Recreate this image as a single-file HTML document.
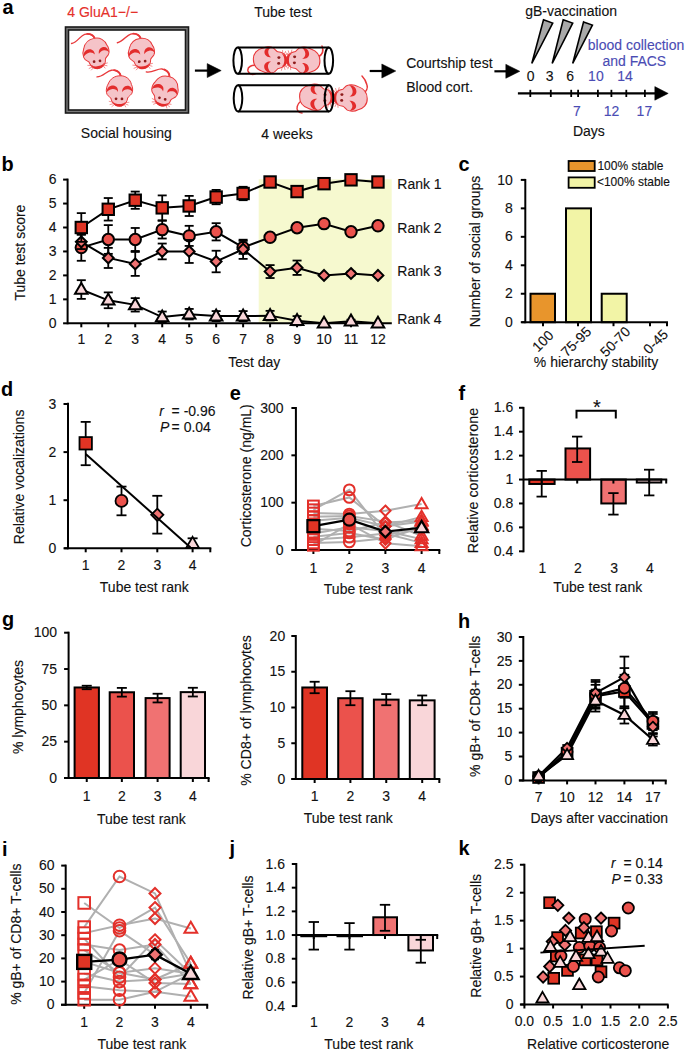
<!DOCTYPE html>
<html><head><meta charset="utf-8"><style>
html,body{margin:0;padding:0;background:#fff;overflow:hidden;}
svg{display:block;font-family:"Liberation Sans",sans-serif;}
</style></head><body>
<svg width="685" height="1051" viewBox="0 0 685 1051">
<defs><g id="mbody">
<g transform="scale(0.0657)">
<path d="M380,165 C470,160 540,220 555,300 C575,330 582,400 557,440 C532,470 507,482 497,502 C492,552 462,602 412,622 C382,632 342,630 312,614 C267,592 250,542 240,502 C215,482 180,462 175,422 C165,372 180,322 200,290 C230,210 300,165 380,165 Z" fill="#f5c3c8" stroke="#e8383a" stroke-width="15"/>
<path d="M176,418 C176,350 222,312 280,314 C328,318 356,360 350,410 C332,378 302,364 266,367 C226,372 194,392 176,418 Z" fill="#e32c2c"/>
<path d="M413,412 C412,360 440,322 492,318 C540,318 570,356 572,414 C553,386 527,370 496,370 C456,372 430,388 413,412 Z" fill="#e32c2c"/>
<circle cx="320" cy="515" r="21" fill="#8e1c1c"/>
<circle cx="410" cy="518" r="21" fill="#8e1c1c"/>
<path d="M272,566 C318,600 422,606 464,562 C452,612 412,634 370,634 C318,632 286,606 272,566 Z" fill="#e32c2c"/>
<path d="M292,572 L210,552 M294,585 L222,604 M302,598 L252,636 M452,574 L522,568 M452,588 L508,612 M445,600 L470,644" stroke="#e8383a" stroke-width="8" fill="none"/>
</g></g>
<g id="mtail"><g transform="scale(0.0657)">
<path d="M392,170 C380,110 320,70 250,80 C180,90 120,180 30,182" fill="none" stroke="#e8383a" stroke-width="21" stroke-linecap="round"/>
<path d="M392,170 C384,125 345,90 290,80" fill="none" stroke="#e8383a" stroke-width="28" stroke-linecap="round"/>
</g></g></defs>
<rect width="685" height="1051" fill="#fff"/>
<text x="2.40" y="14.10" font-size="19.9" font-weight="bold" fill="#000">a</text>
<text x="0" y="0" font-size="14.0" text-anchor="start" fill="#e5302a" stroke="#e5302a" stroke-width="0.12" transform="translate(67.30,16.50) scale(1,1.03)">4 GluA1&#8722;/&#8722;</text>
<text x="0" y="0" font-size="14.0" text-anchor="start" fill="#111" stroke="#111" stroke-width="0.12" transform="translate(254.20,16.50) scale(1,1.03)">Tube test</text>
<text x="0" y="0" font-size="14.0" text-anchor="start" fill="#111" stroke="#111" stroke-width="0.12" transform="translate(80.80,138.10) scale(1,1.03)">Social housing</text>
<text x="0" y="0" font-size="14.0" text-anchor="start" fill="#111" stroke="#111" stroke-width="0.12" transform="translate(261.30,138.50) scale(1,1.03)">4 weeks</text>
<text x="0" y="0" font-size="14.0" text-anchor="start" fill="#111" stroke="#111" stroke-width="0.12" transform="translate(406.20,68.20) scale(1,1.03)">Courtship test</text>
<text x="0" y="0" font-size="14.0" text-anchor="start" fill="#111" stroke="#111" stroke-width="0.12" transform="translate(406.20,92.30) scale(1,1.03)">Blood cort.</text>
<rect x="67" y="28.5" width="120" height="83" fill="none" stroke="#7a7a7a" stroke-width="3"/>
<rect x="65.5" y="27" width="123" height="86" fill="none" stroke="#1a1a1a" stroke-width="1.6"/>
<rect x="68.5" y="30" width="117" height="80" fill="none" stroke="#1a1a1a" stroke-width="1.6"/>
<use href="#mtail" transform="translate(97.05,61.30) rotate(-10) scale(1.0,1.000) translate(-23.98,-33.94)"/>
<use href="#mbody" transform="translate(97.05,61.30) rotate(-10) scale(1.0,1.000) translate(-23.98,-33.94)"/>
<use href="#mtail" transform="translate(142.20,61.40) rotate(-8) scale(1.0,1.000) translate(-23.98,-33.94)"/>
<use href="#mbody" transform="translate(142.20,61.40) rotate(-8) scale(1.0,1.000) translate(-23.98,-33.94)"/>
<use href="#mtail" transform="translate(119.00,98.90) rotate(0) scale(1.0,1.000) translate(-23.98,-33.94)"/>
<use href="#mbody" transform="translate(119.00,98.90) rotate(0) scale(1.0,1.000) translate(-23.98,-33.94)"/>
<use href="#mtail" transform="translate(162.30,98.60) rotate(14) scale(1.0,1.000) translate(-23.98,-33.94)"/>
<use href="#mbody" transform="translate(162.30,98.60) rotate(14) scale(1.0,1.000) translate(-23.98,-33.94)"/>
<line x1="194.90" y1="70.60" x2="208.20" y2="70.60" stroke="#000" stroke-width="2.2" stroke-linecap="butt"/>
<polygon points="207.20,63.60 221.20,70.60 207.20,77.60" fill="#000" stroke="#000" stroke-width="0.5" stroke-linejoin="miter"/>
<line x1="369.70" y1="71.00" x2="382.80" y2="71.00" stroke="#000" stroke-width="2.2" stroke-linecap="butt"/>
<polygon points="381.80,64.00 395.80,71.00 381.80,78.00" fill="#000" stroke="#000" stroke-width="0.5" stroke-linejoin="miter"/>
<line x1="494.40" y1="71.30" x2="506.80" y2="71.30" stroke="#000" stroke-width="2.2" stroke-linecap="butt"/>
<polygon points="505.80,64.30 519.80,71.30 505.80,78.30" fill="#000" stroke="#000" stroke-width="0.5" stroke-linejoin="miter"/>
<path d="M258,66 C252,64 247,67 248,71 C249,74 252,75 255,74" fill="none" stroke="#e8383a" stroke-linecap="round" stroke-width="1.5"/>
<path d="M318,57 C322,55 324,51 322,46" fill="none" stroke="#e8383a" stroke-linecap="round" stroke-width="1.5"/>
<path d="M301,101 C297,104 296,109 298,111 C299,113 301,113 302,113" fill="none" stroke="#e8383a" stroke-linecap="round" stroke-width="1.5"/>
<path d="M362,95 C366,92 368,88 367,85 C366,81 364,78 362,76" fill="none" stroke="#e8383a" stroke-linecap="round" stroke-width="1.5"/>
<use href="#mbody" transform="translate(278.80,60.50) rotate(-90) scale(1.0,1.100) translate(-23.98,-33.94)"/>
<use href="#mbody" transform="translate(294.50,59.80) rotate(90) scale(1.0,1.100) translate(-23.98,-33.94)"/>
<use href="#mbody" transform="translate(325.00,97.70) rotate(-90) scale(1.0,1.100) translate(-23.98,-33.94)"/>
<use href="#mbody" transform="translate(341.80,97.50) rotate(90) scale(1.0,1.100) translate(-23.98,-33.94)"/>
<path d="M237.7,47.5 L328.8,47.5 M237.7,73.8 L328.8,73.8" stroke="#000" stroke-width="2" fill="none"/>
<ellipse cx="237.7" cy="60.6" rx="4.3" ry="13.1" fill="#fff" stroke="#000" stroke-width="2"/>
<ellipse cx="328.8" cy="60.6" rx="4.3" ry="13.1" fill="none" stroke="#000" stroke-width="2"/>
<path d="M238.0,85.3 L329.0,85.3 M238.0,111.4 L329.0,111.4" stroke="#000" stroke-width="2" fill="none"/>
<ellipse cx="238.0" cy="98.3" rx="4.3" ry="13.1" fill="#fff" stroke="#000" stroke-width="2"/>
<ellipse cx="329.0" cy="98.3" rx="4.3" ry="13.1" fill="none" stroke="#000" stroke-width="2"/>
<text x="0" y="0" font-size="14.0" text-anchor="start" fill="#111" stroke="#111" stroke-width="0.12" transform="translate(525.20,16.20) scale(1,1.03)">gB-vaccination</text>
<polygon points="543.50,19.70 552.70,23.10 531.80,63.50" fill="#a9a9a9" stroke="#000" stroke-width="1.6" stroke-linejoin="miter"/>
<polygon points="563.20,19.70 572.70,23.10 552.20,63.50" fill="#a9a9a9" stroke="#000" stroke-width="1.6" stroke-linejoin="miter"/>
<polygon points="583.60,21.90 592.40,25.10 572.70,63.50" fill="#a9a9a9" stroke="#000" stroke-width="1.6" stroke-linejoin="miter"/>
<text x="0" y="0" font-size="14.0" text-anchor="start" fill="#111" stroke="#111" stroke-width="0.12" transform="translate(526.80,81.20) scale(1,1.03)">0</text>
<text x="0" y="0" font-size="14.0" text-anchor="start" fill="#111" stroke="#111" stroke-width="0.12" transform="translate(545.80,81.20) scale(1,1.03)">3</text>
<text x="0" y="0" font-size="14.0" text-anchor="start" fill="#111" stroke="#111" stroke-width="0.12" transform="translate(566.20,81.20) scale(1,1.03)">6</text>
<text x="0" y="0" font-size="14.0" text-anchor="start" fill="#4a4cb4" stroke="#4a4cb4" stroke-width="0.12" transform="translate(588.10,81.20) scale(1,1.03)">10</text>
<text x="0" y="0" font-size="14.0" text-anchor="start" fill="#4a4cb4" stroke="#4a4cb4" stroke-width="0.12" transform="translate(617.20,81.20) scale(1,1.03)">14</text>
<text x="0" y="0" font-size="14.0" text-anchor="start" fill="#4a4cb4" stroke="#4a4cb4" stroke-width="0.12" transform="translate(587.80,50.20) scale(1,1.03)">blood collection</text>
<text x="0" y="0" font-size="14.0" text-anchor="start" fill="#4a4cb4" stroke="#4a4cb4" stroke-width="0.12" transform="translate(602.40,66.30) scale(1,1.03)">and FACS</text>
<line x1="517.90" y1="93.40" x2="656.00" y2="93.40" stroke="#000" stroke-width="2.2" stroke-linecap="butt"/>
<polygon points="654.80,86.60 668.20,93.40 654.80,100.20" fill="#000" stroke="#000" stroke-width="0.5" stroke-linejoin="miter"/>
<line x1="530.30" y1="89.80" x2="530.30" y2="97.00" stroke="#000" stroke-width="1.8" stroke-linecap="butt"/>
<line x1="550.80" y1="89.80" x2="550.80" y2="97.00" stroke="#000" stroke-width="1.8" stroke-linecap="butt"/>
<line x1="571.20" y1="89.80" x2="571.20" y2="97.00" stroke="#000" stroke-width="1.8" stroke-linecap="butt"/>
<line x1="578.10" y1="89.80" x2="578.10" y2="97.00" stroke="#000" stroke-width="1.8" stroke-linecap="butt"/>
<line x1="597.90" y1="89.80" x2="597.90" y2="97.00" stroke="#000" stroke-width="1.8" stroke-linecap="butt"/>
<line x1="611.40" y1="89.80" x2="611.40" y2="97.00" stroke="#000" stroke-width="1.8" stroke-linecap="butt"/>
<line x1="626.30" y1="89.80" x2="626.30" y2="97.00" stroke="#000" stroke-width="1.8" stroke-linecap="butt"/>
<line x1="644.90" y1="89.80" x2="644.90" y2="97.00" stroke="#000" stroke-width="1.8" stroke-linecap="butt"/>
<text x="0" y="0" font-size="14.0" text-anchor="start" fill="#4a4cb4" stroke="#4a4cb4" stroke-width="0.12" transform="translate(573.10,115.90) scale(1,1.03)">7</text>
<text x="0" y="0" font-size="14.0" text-anchor="start" fill="#4a4cb4" stroke="#4a4cb4" stroke-width="0.12" transform="translate(603.70,115.90) scale(1,1.03)">12</text>
<text x="0" y="0" font-size="14.0" text-anchor="start" fill="#4a4cb4" stroke="#4a4cb4" stroke-width="0.12" transform="translate(636.60,115.90) scale(1,1.03)">17</text>
<text x="0" y="0" font-size="14.0" text-anchor="start" fill="#111" stroke="#111" stroke-width="0.12" transform="translate(572.90,136.00) scale(1,1.03)">Days</text>
<text x="1.40" y="170.80" font-size="19.9" font-weight="bold" fill="#000">b</text>
<rect x="258.7" y="179.3" width="133" height="144.0" fill="#f6f9cf"/>
<line x1="67.60" y1="178.60" x2="67.60" y2="324.30" stroke="#000" stroke-width="2.0" stroke-linecap="butt"/>
<line x1="63.10" y1="323.30" x2="67.60" y2="323.30" stroke="#000" stroke-width="2.0" stroke-linecap="butt"/>
<text x="0" y="0" font-size="14.0" text-anchor="end" fill="#111" stroke="#111" stroke-width="0.12" transform="translate(56.60,327.90) scale(1,1.03)">0</text>
<line x1="63.10" y1="299.35" x2="67.60" y2="299.35" stroke="#000" stroke-width="2.0" stroke-linecap="butt"/>
<text x="0" y="0" font-size="14.0" text-anchor="end" fill="#111" stroke="#111" stroke-width="0.12" transform="translate(56.60,303.95) scale(1,1.03)">1</text>
<line x1="63.10" y1="275.40" x2="67.60" y2="275.40" stroke="#000" stroke-width="2.0" stroke-linecap="butt"/>
<text x="0" y="0" font-size="14.0" text-anchor="end" fill="#111" stroke="#111" stroke-width="0.12" transform="translate(56.60,280.00) scale(1,1.03)">2</text>
<line x1="63.10" y1="251.45" x2="67.60" y2="251.45" stroke="#000" stroke-width="2.0" stroke-linecap="butt"/>
<text x="0" y="0" font-size="14.0" text-anchor="end" fill="#111" stroke="#111" stroke-width="0.12" transform="translate(56.60,256.05) scale(1,1.03)">3</text>
<line x1="63.10" y1="227.50" x2="67.60" y2="227.50" stroke="#000" stroke-width="2.0" stroke-linecap="butt"/>
<text x="0" y="0" font-size="14.0" text-anchor="end" fill="#111" stroke="#111" stroke-width="0.12" transform="translate(56.60,232.10) scale(1,1.03)">4</text>
<line x1="63.10" y1="203.55" x2="67.60" y2="203.55" stroke="#000" stroke-width="2.0" stroke-linecap="butt"/>
<text x="0" y="0" font-size="14.0" text-anchor="end" fill="#111" stroke="#111" stroke-width="0.12" transform="translate(56.60,208.15) scale(1,1.03)">5</text>
<line x1="63.10" y1="179.60" x2="67.60" y2="179.60" stroke="#000" stroke-width="2.0" stroke-linecap="butt"/>
<text x="0" y="0" font-size="14.0" text-anchor="end" fill="#111" stroke="#111" stroke-width="0.12" transform="translate(56.60,184.20) scale(1,1.03)">6</text>
<line x1="67.60" y1="323.30" x2="391.80" y2="323.30" stroke="#000" stroke-width="2.0" stroke-linecap="butt"/>
<line x1="81.30" y1="323.30" x2="81.30" y2="327.30" stroke="#000" stroke-width="2.0" stroke-linecap="butt"/>
<text x="0" y="0" font-size="14.0" text-anchor="middle" fill="#111" stroke="#111" stroke-width="0.12" transform="translate(81.30,343.90) scale(1,1.03)">1</text>
<line x1="108.27" y1="323.30" x2="108.27" y2="327.30" stroke="#000" stroke-width="2.0" stroke-linecap="butt"/>
<text x="0" y="0" font-size="14.0" text-anchor="middle" fill="#111" stroke="#111" stroke-width="0.12" transform="translate(108.27,343.90) scale(1,1.03)">2</text>
<line x1="135.24" y1="323.30" x2="135.24" y2="327.30" stroke="#000" stroke-width="2.0" stroke-linecap="butt"/>
<text x="0" y="0" font-size="14.0" text-anchor="middle" fill="#111" stroke="#111" stroke-width="0.12" transform="translate(135.24,343.90) scale(1,1.03)">3</text>
<line x1="162.21" y1="323.30" x2="162.21" y2="327.30" stroke="#000" stroke-width="2.0" stroke-linecap="butt"/>
<text x="0" y="0" font-size="14.0" text-anchor="middle" fill="#111" stroke="#111" stroke-width="0.12" transform="translate(162.21,343.90) scale(1,1.03)">4</text>
<line x1="189.18" y1="323.30" x2="189.18" y2="327.30" stroke="#000" stroke-width="2.0" stroke-linecap="butt"/>
<text x="0" y="0" font-size="14.0" text-anchor="middle" fill="#111" stroke="#111" stroke-width="0.12" transform="translate(189.18,343.90) scale(1,1.03)">5</text>
<line x1="216.15" y1="323.30" x2="216.15" y2="327.30" stroke="#000" stroke-width="2.0" stroke-linecap="butt"/>
<text x="0" y="0" font-size="14.0" text-anchor="middle" fill="#111" stroke="#111" stroke-width="0.12" transform="translate(216.15,343.90) scale(1,1.03)">6</text>
<line x1="243.12" y1="323.30" x2="243.12" y2="327.30" stroke="#000" stroke-width="2.0" stroke-linecap="butt"/>
<text x="0" y="0" font-size="14.0" text-anchor="middle" fill="#111" stroke="#111" stroke-width="0.12" transform="translate(243.12,343.90) scale(1,1.03)">7</text>
<line x1="270.09" y1="323.30" x2="270.09" y2="327.30" stroke="#000" stroke-width="2.0" stroke-linecap="butt"/>
<text x="0" y="0" font-size="14.0" text-anchor="middle" fill="#111" stroke="#111" stroke-width="0.12" transform="translate(270.09,343.90) scale(1,1.03)">8</text>
<line x1="297.06" y1="323.30" x2="297.06" y2="327.30" stroke="#000" stroke-width="2.0" stroke-linecap="butt"/>
<text x="0" y="0" font-size="14.0" text-anchor="middle" fill="#111" stroke="#111" stroke-width="0.12" transform="translate(297.06,343.90) scale(1,1.03)">9</text>
<line x1="324.03" y1="323.30" x2="324.03" y2="327.30" stroke="#000" stroke-width="2.0" stroke-linecap="butt"/>
<text x="0" y="0" font-size="14.0" text-anchor="middle" fill="#111" stroke="#111" stroke-width="0.12" transform="translate(324.03,343.90) scale(1,1.03)">10</text>
<line x1="351.00" y1="323.30" x2="351.00" y2="327.30" stroke="#000" stroke-width="2.0" stroke-linecap="butt"/>
<text x="0" y="0" font-size="14.0" text-anchor="middle" fill="#111" stroke="#111" stroke-width="0.12" transform="translate(351.00,343.90) scale(1,1.03)">11</text>
<line x1="377.97" y1="323.30" x2="377.97" y2="327.30" stroke="#000" stroke-width="2.0" stroke-linecap="butt"/>
<text x="0" y="0" font-size="14.0" text-anchor="middle" fill="#111" stroke="#111" stroke-width="0.12" transform="translate(377.97,343.90) scale(1,1.03)">12</text>
<text x="0" y="0" font-size="14.0" text-anchor="middle" fill="#111" stroke="#111" stroke-width="0.12" transform="rotate(-90 24.40 252.60) translate(24.40,253.50) scale(1,1.03)">Tube test score</text>
<text x="0" y="0" font-size="14.0" text-anchor="middle" fill="#111" stroke="#111" stroke-width="0.12" transform="translate(254.30,367.30) scale(1,1.03)">Test day</text>
<text x="0" y="0" font-size="14.0" text-anchor="start" fill="#111" stroke="#111" stroke-width="0.12" transform="translate(397.30,188.90) scale(1,1.03)">Rank 1</text>
<text x="0" y="0" font-size="14.0" text-anchor="start" fill="#111" stroke="#111" stroke-width="0.12" transform="translate(397.30,233.30) scale(1,1.03)">Rank 2</text>
<text x="0" y="0" font-size="14.0" text-anchor="start" fill="#111" stroke="#111" stroke-width="0.12" transform="translate(397.30,275.90) scale(1,1.03)">Rank 3</text>
<text x="0" y="0" font-size="14.0" text-anchor="start" fill="#111" stroke="#111" stroke-width="0.12" transform="translate(397.30,324.10) scale(1,1.03)">Rank 4</text>
<line x1="81.30" y1="280.19" x2="81.30" y2="298.87" stroke="#000" stroke-width="1.8" stroke-linecap="butt"/>
<line x1="76.80" y1="280.19" x2="85.80" y2="280.19" stroke="#000" stroke-width="1.8" stroke-linecap="butt"/>
<line x1="76.80" y1="298.87" x2="85.80" y2="298.87" stroke="#000" stroke-width="1.8" stroke-linecap="butt"/>
<line x1="108.27" y1="292.40" x2="108.27" y2="308.21" stroke="#000" stroke-width="1.8" stroke-linecap="butt"/>
<line x1="103.77" y1="292.40" x2="112.77" y2="292.40" stroke="#000" stroke-width="1.8" stroke-linecap="butt"/>
<line x1="103.77" y1="308.21" x2="112.77" y2="308.21" stroke="#000" stroke-width="1.8" stroke-linecap="butt"/>
<line x1="135.24" y1="298.15" x2="135.24" y2="311.56" stroke="#000" stroke-width="1.8" stroke-linecap="butt"/>
<line x1="130.74" y1="298.15" x2="139.74" y2="298.15" stroke="#000" stroke-width="1.8" stroke-linecap="butt"/>
<line x1="130.74" y1="311.56" x2="139.74" y2="311.56" stroke="#000" stroke-width="1.8" stroke-linecap="butt"/>
<line x1="162.21" y1="311.56" x2="162.21" y2="322.58" stroke="#000" stroke-width="1.8" stroke-linecap="butt"/>
<line x1="157.71" y1="311.56" x2="166.71" y2="311.56" stroke="#000" stroke-width="1.8" stroke-linecap="butt"/>
<line x1="157.71" y1="322.58" x2="166.71" y2="322.58" stroke="#000" stroke-width="1.8" stroke-linecap="butt"/>
<line x1="189.18" y1="308.93" x2="189.18" y2="319.47" stroke="#000" stroke-width="1.8" stroke-linecap="butt"/>
<line x1="184.68" y1="308.93" x2="193.68" y2="308.93" stroke="#000" stroke-width="1.8" stroke-linecap="butt"/>
<line x1="184.68" y1="319.47" x2="193.68" y2="319.47" stroke="#000" stroke-width="1.8" stroke-linecap="butt"/>
<line x1="216.15" y1="311.09" x2="216.15" y2="321.14" stroke="#000" stroke-width="1.8" stroke-linecap="butt"/>
<line x1="211.65" y1="311.09" x2="220.65" y2="311.09" stroke="#000" stroke-width="1.8" stroke-linecap="butt"/>
<line x1="211.65" y1="321.14" x2="220.65" y2="321.14" stroke="#000" stroke-width="1.8" stroke-linecap="butt"/>
<line x1="243.12" y1="311.09" x2="243.12" y2="321.14" stroke="#000" stroke-width="1.8" stroke-linecap="butt"/>
<line x1="238.62" y1="311.09" x2="247.62" y2="311.09" stroke="#000" stroke-width="1.8" stroke-linecap="butt"/>
<line x1="238.62" y1="321.14" x2="247.62" y2="321.14" stroke="#000" stroke-width="1.8" stroke-linecap="butt"/>
<line x1="270.09" y1="310.85" x2="270.09" y2="320.43" stroke="#000" stroke-width="1.8" stroke-linecap="butt"/>
<line x1="265.59" y1="310.85" x2="274.59" y2="310.85" stroke="#000" stroke-width="1.8" stroke-linecap="butt"/>
<line x1="265.59" y1="320.43" x2="274.59" y2="320.43" stroke="#000" stroke-width="1.8" stroke-linecap="butt"/>
<line x1="297.06" y1="316.12" x2="297.06" y2="325.22" stroke="#000" stroke-width="1.8" stroke-linecap="butt"/>
<line x1="292.56" y1="316.12" x2="301.56" y2="316.12" stroke="#000" stroke-width="1.8" stroke-linecap="butt"/>
<line x1="292.56" y1="325.22" x2="301.56" y2="325.22" stroke="#000" stroke-width="1.8" stroke-linecap="butt"/>
<line x1="351.00" y1="319.71" x2="351.00" y2="322.58" stroke="#000" stroke-width="1.8" stroke-linecap="butt"/>
<line x1="346.50" y1="319.71" x2="355.50" y2="319.71" stroke="#000" stroke-width="1.8" stroke-linecap="butt"/>
<line x1="346.50" y1="322.58" x2="355.50" y2="322.58" stroke="#000" stroke-width="1.8" stroke-linecap="butt"/>
<polyline points="81.30,289.53 108.27,300.31 135.24,304.86 162.21,317.07 189.18,314.20 216.15,316.12 243.12,316.12 270.09,315.64 297.06,320.67 324.03,323.30 351.00,321.14 377.97,323.30" fill="none" stroke="#000" stroke-width="2"/>
<polygon points="81.30,282.98 87.57,293.81 75.03,293.81" fill="#f9d6d9" stroke="#000" stroke-width="2.0" stroke-linejoin="miter"/>
<polygon points="108.27,293.75 114.54,304.58 102.00,304.58" fill="#f9d6d9" stroke="#000" stroke-width="2.0" stroke-linejoin="miter"/>
<polygon points="135.24,298.30 141.51,309.13 128.97,309.13" fill="#f9d6d9" stroke="#000" stroke-width="2.0" stroke-linejoin="miter"/>
<polygon points="162.21,310.52 168.48,321.35 155.94,321.35" fill="#f9d6d9" stroke="#000" stroke-width="2.0" stroke-linejoin="miter"/>
<polygon points="189.18,307.64 195.45,318.47 182.91,318.47" fill="#f9d6d9" stroke="#000" stroke-width="2.0" stroke-linejoin="miter"/>
<polygon points="216.15,309.56 222.42,320.39 209.88,320.39" fill="#f9d6d9" stroke="#000" stroke-width="2.0" stroke-linejoin="miter"/>
<polygon points="243.12,309.56 249.39,320.39 236.85,320.39" fill="#f9d6d9" stroke="#000" stroke-width="2.0" stroke-linejoin="miter"/>
<polygon points="270.09,309.08 276.36,319.91 263.82,319.91" fill="#f9d6d9" stroke="#000" stroke-width="2.0" stroke-linejoin="miter"/>
<polygon points="297.06,314.11 303.33,324.94 290.79,324.94" fill="#f9d6d9" stroke="#000" stroke-width="2.0" stroke-linejoin="miter"/>
<polygon points="324.03,316.75 330.30,327.57 317.76,327.57" fill="#f9d6d9" stroke="#000" stroke-width="2.0" stroke-linejoin="miter"/>
<polygon points="351.00,314.59 357.27,325.42 344.73,325.42" fill="#f9d6d9" stroke="#000" stroke-width="2.0" stroke-linejoin="miter"/>
<polygon points="377.97,316.75 384.24,327.57 371.70,327.57" fill="#f9d6d9" stroke="#000" stroke-width="2.0" stroke-linejoin="miter"/>
<line x1="81.30" y1="234.45" x2="81.30" y2="260.79" stroke="#000" stroke-width="1.8" stroke-linecap="butt"/>
<line x1="76.80" y1="234.45" x2="85.80" y2="234.45" stroke="#000" stroke-width="1.8" stroke-linecap="butt"/>
<line x1="76.80" y1="260.79" x2="85.80" y2="260.79" stroke="#000" stroke-width="1.8" stroke-linecap="butt"/>
<line x1="108.27" y1="225.11" x2="108.27" y2="253.85" stroke="#000" stroke-width="1.8" stroke-linecap="butt"/>
<line x1="103.77" y1="225.11" x2="112.77" y2="225.11" stroke="#000" stroke-width="1.8" stroke-linecap="butt"/>
<line x1="103.77" y1="253.85" x2="112.77" y2="253.85" stroke="#000" stroke-width="1.8" stroke-linecap="butt"/>
<line x1="135.24" y1="227.98" x2="135.24" y2="250.97" stroke="#000" stroke-width="1.8" stroke-linecap="butt"/>
<line x1="130.74" y1="227.98" x2="139.74" y2="227.98" stroke="#000" stroke-width="1.8" stroke-linecap="butt"/>
<line x1="130.74" y1="250.97" x2="139.74" y2="250.97" stroke="#000" stroke-width="1.8" stroke-linecap="butt"/>
<line x1="162.21" y1="220.79" x2="162.21" y2="238.52" stroke="#000" stroke-width="1.8" stroke-linecap="butt"/>
<line x1="157.71" y1="220.79" x2="166.71" y2="220.79" stroke="#000" stroke-width="1.8" stroke-linecap="butt"/>
<line x1="157.71" y1="238.52" x2="166.71" y2="238.52" stroke="#000" stroke-width="1.8" stroke-linecap="butt"/>
<line x1="189.18" y1="225.82" x2="189.18" y2="245.94" stroke="#000" stroke-width="1.8" stroke-linecap="butt"/>
<line x1="184.68" y1="225.82" x2="193.68" y2="225.82" stroke="#000" stroke-width="1.8" stroke-linecap="butt"/>
<line x1="184.68" y1="245.94" x2="193.68" y2="245.94" stroke="#000" stroke-width="1.8" stroke-linecap="butt"/>
<line x1="216.15" y1="223.19" x2="216.15" y2="240.43" stroke="#000" stroke-width="1.8" stroke-linecap="butt"/>
<line x1="211.65" y1="223.19" x2="220.65" y2="223.19" stroke="#000" stroke-width="1.8" stroke-linecap="butt"/>
<line x1="211.65" y1="240.43" x2="220.65" y2="240.43" stroke="#000" stroke-width="1.8" stroke-linecap="butt"/>
<line x1="243.12" y1="240.91" x2="243.12" y2="253.85" stroke="#000" stroke-width="1.8" stroke-linecap="butt"/>
<line x1="238.62" y1="240.91" x2="247.62" y2="240.91" stroke="#000" stroke-width="1.8" stroke-linecap="butt"/>
<line x1="238.62" y1="253.85" x2="247.62" y2="253.85" stroke="#000" stroke-width="1.8" stroke-linecap="butt"/>
<line x1="297.06" y1="224.87" x2="297.06" y2="230.61" stroke="#000" stroke-width="1.8" stroke-linecap="butt"/>
<line x1="292.56" y1="224.87" x2="301.56" y2="224.87" stroke="#000" stroke-width="1.8" stroke-linecap="butt"/>
<line x1="292.56" y1="230.61" x2="301.56" y2="230.61" stroke="#000" stroke-width="1.8" stroke-linecap="butt"/>
<polyline points="81.30,247.62 108.27,239.48 135.24,239.48 162.21,229.66 189.18,235.88 216.15,231.81 243.12,247.38 270.09,237.32 297.06,227.74 324.03,223.67 351.00,231.81 377.97,225.82" fill="none" stroke="#000" stroke-width="2"/>
<circle cx="81.30" cy="247.62" r="5.70" fill="#eb524c" stroke="#000" stroke-width="2.0"/>
<circle cx="108.27" cy="239.48" r="5.70" fill="#eb524c" stroke="#000" stroke-width="2.0"/>
<circle cx="135.24" cy="239.48" r="5.70" fill="#eb524c" stroke="#000" stroke-width="2.0"/>
<circle cx="162.21" cy="229.66" r="5.70" fill="#eb524c" stroke="#000" stroke-width="2.0"/>
<circle cx="189.18" cy="235.88" r="5.70" fill="#eb524c" stroke="#000" stroke-width="2.0"/>
<circle cx="216.15" cy="231.81" r="5.70" fill="#eb524c" stroke="#000" stroke-width="2.0"/>
<circle cx="243.12" cy="247.38" r="5.70" fill="#eb524c" stroke="#000" stroke-width="2.0"/>
<circle cx="270.09" cy="237.32" r="5.70" fill="#eb524c" stroke="#000" stroke-width="2.0"/>
<circle cx="297.06" cy="227.74" r="5.70" fill="#eb524c" stroke="#000" stroke-width="2.0"/>
<circle cx="324.03" cy="223.67" r="5.70" fill="#eb524c" stroke="#000" stroke-width="2.0"/>
<circle cx="351.00" cy="231.81" r="5.70" fill="#eb524c" stroke="#000" stroke-width="2.0"/>
<circle cx="377.97" cy="225.82" r="5.70" fill="#eb524c" stroke="#000" stroke-width="2.0"/>
<line x1="81.30" y1="234.69" x2="81.30" y2="249.06" stroke="#000" stroke-width="1.8" stroke-linecap="butt"/>
<line x1="76.80" y1="234.69" x2="85.80" y2="234.69" stroke="#000" stroke-width="1.8" stroke-linecap="butt"/>
<line x1="76.80" y1="249.06" x2="85.80" y2="249.06" stroke="#000" stroke-width="1.8" stroke-linecap="butt"/>
<line x1="108.27" y1="247.86" x2="108.27" y2="267.98" stroke="#000" stroke-width="1.8" stroke-linecap="butt"/>
<line x1="103.77" y1="247.86" x2="112.77" y2="247.86" stroke="#000" stroke-width="1.8" stroke-linecap="butt"/>
<line x1="103.77" y1="267.98" x2="112.77" y2="267.98" stroke="#000" stroke-width="1.8" stroke-linecap="butt"/>
<line x1="135.24" y1="251.93" x2="135.24" y2="275.88" stroke="#000" stroke-width="1.8" stroke-linecap="butt"/>
<line x1="130.74" y1="251.93" x2="139.74" y2="251.93" stroke="#000" stroke-width="1.8" stroke-linecap="butt"/>
<line x1="130.74" y1="275.88" x2="139.74" y2="275.88" stroke="#000" stroke-width="1.8" stroke-linecap="butt"/>
<line x1="162.21" y1="243.55" x2="162.21" y2="259.35" stroke="#000" stroke-width="1.8" stroke-linecap="butt"/>
<line x1="157.71" y1="243.55" x2="166.71" y2="243.55" stroke="#000" stroke-width="1.8" stroke-linecap="butt"/>
<line x1="157.71" y1="259.35" x2="166.71" y2="259.35" stroke="#000" stroke-width="1.8" stroke-linecap="butt"/>
<line x1="189.18" y1="239.95" x2="189.18" y2="262.95" stroke="#000" stroke-width="1.8" stroke-linecap="butt"/>
<line x1="184.68" y1="239.95" x2="193.68" y2="239.95" stroke="#000" stroke-width="1.8" stroke-linecap="butt"/>
<line x1="184.68" y1="262.95" x2="193.68" y2="262.95" stroke="#000" stroke-width="1.8" stroke-linecap="butt"/>
<line x1="216.15" y1="250.73" x2="216.15" y2="272.29" stroke="#000" stroke-width="1.8" stroke-linecap="butt"/>
<line x1="211.65" y1="250.73" x2="220.65" y2="250.73" stroke="#000" stroke-width="1.8" stroke-linecap="butt"/>
<line x1="211.65" y1="272.29" x2="220.65" y2="272.29" stroke="#000" stroke-width="1.8" stroke-linecap="butt"/>
<line x1="243.12" y1="239.71" x2="243.12" y2="258.87" stroke="#000" stroke-width="1.8" stroke-linecap="butt"/>
<line x1="238.62" y1="239.71" x2="247.62" y2="239.71" stroke="#000" stroke-width="1.8" stroke-linecap="butt"/>
<line x1="238.62" y1="258.87" x2="247.62" y2="258.87" stroke="#000" stroke-width="1.8" stroke-linecap="butt"/>
<line x1="270.09" y1="265.10" x2="270.09" y2="278.03" stroke="#000" stroke-width="1.8" stroke-linecap="butt"/>
<line x1="265.59" y1="265.10" x2="274.59" y2="265.10" stroke="#000" stroke-width="1.8" stroke-linecap="butt"/>
<line x1="265.59" y1="278.03" x2="274.59" y2="278.03" stroke="#000" stroke-width="1.8" stroke-linecap="butt"/>
<line x1="297.06" y1="260.55" x2="297.06" y2="274.92" stroke="#000" stroke-width="1.8" stroke-linecap="butt"/>
<line x1="292.56" y1="260.55" x2="301.56" y2="260.55" stroke="#000" stroke-width="1.8" stroke-linecap="butt"/>
<line x1="292.56" y1="274.92" x2="301.56" y2="274.92" stroke="#000" stroke-width="1.8" stroke-linecap="butt"/>
<line x1="351.00" y1="271.57" x2="351.00" y2="275.40" stroke="#000" stroke-width="1.8" stroke-linecap="butt"/>
<line x1="346.50" y1="271.57" x2="355.50" y2="271.57" stroke="#000" stroke-width="1.8" stroke-linecap="butt"/>
<line x1="346.50" y1="275.40" x2="355.50" y2="275.40" stroke="#000" stroke-width="1.8" stroke-linecap="butt"/>
<polyline points="81.30,241.87 108.27,257.92 135.24,263.90 162.21,251.45 189.18,251.45 216.15,261.51 243.12,249.29 270.09,271.57 297.06,267.74 324.03,275.40 351.00,273.48 377.97,275.40" fill="none" stroke="#000" stroke-width="2"/>
<polygon points="81.30,236.46 86.72,241.87 81.30,247.28 75.88,241.87" fill="#f07272" stroke="#000" stroke-width="2.0" stroke-linejoin="miter"/>
<polygon points="108.27,252.50 113.69,257.92 108.27,263.33 102.85,257.92" fill="#f07272" stroke="#000" stroke-width="2.0" stroke-linejoin="miter"/>
<polygon points="135.24,258.49 140.66,263.90 135.24,269.32 129.83,263.90" fill="#f07272" stroke="#000" stroke-width="2.0" stroke-linejoin="miter"/>
<polygon points="162.21,246.04 167.62,251.45 162.21,256.87 156.79,251.45" fill="#f07272" stroke="#000" stroke-width="2.0" stroke-linejoin="miter"/>
<polygon points="189.18,246.04 194.59,251.45 189.18,256.87 183.77,251.45" fill="#f07272" stroke="#000" stroke-width="2.0" stroke-linejoin="miter"/>
<polygon points="216.15,256.09 221.56,261.51 216.15,266.92 210.73,261.51" fill="#f07272" stroke="#000" stroke-width="2.0" stroke-linejoin="miter"/>
<polygon points="243.12,243.88 248.53,249.29 243.12,254.71 237.71,249.29" fill="#f07272" stroke="#000" stroke-width="2.0" stroke-linejoin="miter"/>
<polygon points="270.09,266.15 275.50,271.57 270.09,276.98 264.67,271.57" fill="#f07272" stroke="#000" stroke-width="2.0" stroke-linejoin="miter"/>
<polygon points="297.06,262.32 302.48,267.74 297.06,273.15 291.64,267.74" fill="#f07272" stroke="#000" stroke-width="2.0" stroke-linejoin="miter"/>
<polygon points="324.03,269.99 329.44,275.40 324.03,280.82 318.61,275.40" fill="#f07272" stroke="#000" stroke-width="2.0" stroke-linejoin="miter"/>
<polygon points="351.00,268.07 356.42,273.48 351.00,278.90 345.58,273.48" fill="#f07272" stroke="#000" stroke-width="2.0" stroke-linejoin="miter"/>
<polygon points="377.97,269.99 383.38,275.40 377.97,280.82 372.55,275.40" fill="#f07272" stroke="#000" stroke-width="2.0" stroke-linejoin="miter"/>
<line x1="81.30" y1="213.13" x2="81.30" y2="241.87" stroke="#000" stroke-width="1.8" stroke-linecap="butt"/>
<line x1="76.80" y1="213.13" x2="85.80" y2="213.13" stroke="#000" stroke-width="1.8" stroke-linecap="butt"/>
<line x1="76.80" y1="241.87" x2="85.80" y2="241.87" stroke="#000" stroke-width="1.8" stroke-linecap="butt"/>
<line x1="108.27" y1="198.04" x2="108.27" y2="220.55" stroke="#000" stroke-width="1.8" stroke-linecap="butt"/>
<line x1="103.77" y1="198.04" x2="112.77" y2="198.04" stroke="#000" stroke-width="1.8" stroke-linecap="butt"/>
<line x1="103.77" y1="220.55" x2="112.77" y2="220.55" stroke="#000" stroke-width="1.8" stroke-linecap="butt"/>
<line x1="135.24" y1="191.58" x2="135.24" y2="208.82" stroke="#000" stroke-width="1.8" stroke-linecap="butt"/>
<line x1="130.74" y1="191.58" x2="139.74" y2="191.58" stroke="#000" stroke-width="1.8" stroke-linecap="butt"/>
<line x1="130.74" y1="208.82" x2="139.74" y2="208.82" stroke="#000" stroke-width="1.8" stroke-linecap="butt"/>
<line x1="162.21" y1="195.41" x2="162.21" y2="220.31" stroke="#000" stroke-width="1.8" stroke-linecap="butt"/>
<line x1="157.71" y1="195.41" x2="166.71" y2="195.41" stroke="#000" stroke-width="1.8" stroke-linecap="butt"/>
<line x1="157.71" y1="220.31" x2="166.71" y2="220.31" stroke="#000" stroke-width="1.8" stroke-linecap="butt"/>
<line x1="189.18" y1="195.89" x2="189.18" y2="216.00" stroke="#000" stroke-width="1.8" stroke-linecap="butt"/>
<line x1="184.68" y1="195.89" x2="193.68" y2="195.89" stroke="#000" stroke-width="1.8" stroke-linecap="butt"/>
<line x1="184.68" y1="216.00" x2="193.68" y2="216.00" stroke="#000" stroke-width="1.8" stroke-linecap="butt"/>
<line x1="216.15" y1="189.90" x2="216.15" y2="204.27" stroke="#000" stroke-width="1.8" stroke-linecap="butt"/>
<line x1="211.65" y1="189.90" x2="220.65" y2="189.90" stroke="#000" stroke-width="1.8" stroke-linecap="butt"/>
<line x1="211.65" y1="204.27" x2="220.65" y2="204.27" stroke="#000" stroke-width="1.8" stroke-linecap="butt"/>
<line x1="243.12" y1="186.79" x2="243.12" y2="200.20" stroke="#000" stroke-width="1.8" stroke-linecap="butt"/>
<line x1="238.62" y1="186.79" x2="247.62" y2="186.79" stroke="#000" stroke-width="1.8" stroke-linecap="butt"/>
<line x1="238.62" y1="200.20" x2="247.62" y2="200.20" stroke="#000" stroke-width="1.8" stroke-linecap="butt"/>
<polyline points="81.30,227.50 108.27,209.30 135.24,200.20 162.21,207.86 189.18,205.94 216.15,197.08 243.12,193.49 270.09,182.00 297.06,191.58 324.03,183.67 351.00,179.84 377.97,182.00" fill="none" stroke="#000" stroke-width="2"/>
<rect x="75.60" y="221.80" width="11.40" height="11.40" fill="#e03424" stroke="#000" stroke-width="2.0"/>
<rect x="102.57" y="203.60" width="11.40" height="11.40" fill="#e03424" stroke="#000" stroke-width="2.0"/>
<rect x="129.54" y="194.50" width="11.40" height="11.40" fill="#e03424" stroke="#000" stroke-width="2.0"/>
<rect x="156.51" y="202.16" width="11.40" height="11.40" fill="#e03424" stroke="#000" stroke-width="2.0"/>
<rect x="183.48" y="200.25" width="11.40" height="11.40" fill="#e03424" stroke="#000" stroke-width="2.0"/>
<rect x="210.45" y="191.38" width="11.40" height="11.40" fill="#e03424" stroke="#000" stroke-width="2.0"/>
<rect x="237.42" y="187.79" width="11.40" height="11.40" fill="#e03424" stroke="#000" stroke-width="2.0"/>
<rect x="264.39" y="176.30" width="11.40" height="11.40" fill="#e03424" stroke="#000" stroke-width="2.0"/>
<rect x="291.36" y="185.88" width="11.40" height="11.40" fill="#e03424" stroke="#000" stroke-width="2.0"/>
<rect x="318.33" y="177.97" width="11.40" height="11.40" fill="#e03424" stroke="#000" stroke-width="2.0"/>
<rect x="345.30" y="174.14" width="11.40" height="11.40" fill="#e03424" stroke="#000" stroke-width="2.0"/>
<rect x="372.27" y="176.30" width="11.40" height="11.40" fill="#e03424" stroke="#000" stroke-width="2.0"/>
<text x="458.40" y="171.20" font-size="19.9" font-weight="bold" fill="#000">c</text>
<rect x="568.60" y="161.00" width="26.10" height="10.00" fill="#e8952c" stroke="#000" stroke-width="1.8"/>
<rect x="568.60" y="177.40" width="26.10" height="10.40" fill="#f2f4a6" stroke="#000" stroke-width="1.8"/>
<text x="0" y="0" font-size="12" text-anchor="start" fill="#111" stroke="#111" stroke-width="0.12" transform="translate(597.40,169.70) scale(1,1.03)">100% stable</text>
<text x="0" y="0" font-size="12" text-anchor="start" fill="#111" stroke="#111" stroke-width="0.12" transform="translate(596.90,186.10) scale(1,1.03)">&lt;100% stable</text>
<rect x="530.50" y="293.74" width="24.50" height="28.46" fill="#e8952c" stroke="#000" stroke-width="2"/>
<rect x="566.00" y="208.36" width="25.00" height="113.84" fill="#f2f4a6" stroke="#000" stroke-width="2"/>
<rect x="601.70" y="293.74" width="25.00" height="28.46" fill="#f2f4a6" stroke="#000" stroke-width="2"/>
<line x1="525.30" y1="178.90" x2="525.30" y2="323.20" stroke="#000" stroke-width="2.0" stroke-linecap="butt"/>
<line x1="520.80" y1="322.20" x2="525.30" y2="322.20" stroke="#000" stroke-width="2.0" stroke-linecap="butt"/>
<text x="0" y="0" font-size="14.0" text-anchor="end" fill="#111" stroke="#111" stroke-width="0.12" transform="translate(512.80,326.80) scale(1,1.03)">0</text>
<line x1="520.80" y1="293.74" x2="525.30" y2="293.74" stroke="#000" stroke-width="2.0" stroke-linecap="butt"/>
<text x="0" y="0" font-size="14.0" text-anchor="end" fill="#111" stroke="#111" stroke-width="0.12" transform="translate(512.80,298.34) scale(1,1.03)">2</text>
<line x1="520.80" y1="265.28" x2="525.30" y2="265.28" stroke="#000" stroke-width="2.0" stroke-linecap="butt"/>
<text x="0" y="0" font-size="14.0" text-anchor="end" fill="#111" stroke="#111" stroke-width="0.12" transform="translate(512.80,269.88) scale(1,1.03)">4</text>
<line x1="520.80" y1="236.82" x2="525.30" y2="236.82" stroke="#000" stroke-width="2.0" stroke-linecap="butt"/>
<text x="0" y="0" font-size="14.0" text-anchor="end" fill="#111" stroke="#111" stroke-width="0.12" transform="translate(512.80,241.42) scale(1,1.03)">6</text>
<line x1="520.80" y1="208.36" x2="525.30" y2="208.36" stroke="#000" stroke-width="2.0" stroke-linecap="butt"/>
<text x="0" y="0" font-size="14.0" text-anchor="end" fill="#111" stroke="#111" stroke-width="0.12" transform="translate(512.80,212.96) scale(1,1.03)">8</text>
<line x1="520.80" y1="179.90" x2="525.30" y2="179.90" stroke="#000" stroke-width="2.0" stroke-linecap="butt"/>
<text x="0" y="0" font-size="14.0" text-anchor="end" fill="#111" stroke="#111" stroke-width="0.12" transform="translate(512.80,184.50) scale(1,1.03)">10</text>
<line x1="521.50" y1="322.20" x2="668.00" y2="322.20" stroke="#000" stroke-width="2.0" stroke-linecap="butt"/>
<line x1="543.00" y1="322.20" x2="543.00" y2="326.20" stroke="#000" stroke-width="2.0" stroke-linecap="butt"/>
<line x1="578.00" y1="322.20" x2="578.00" y2="326.20" stroke="#000" stroke-width="2.0" stroke-linecap="butt"/>
<line x1="613.50" y1="322.20" x2="613.50" y2="326.20" stroke="#000" stroke-width="2.0" stroke-linecap="butt"/>
<line x1="650.00" y1="322.20" x2="650.00" y2="326.20" stroke="#000" stroke-width="2.0" stroke-linecap="butt"/>
<line x1="667.00" y1="322.20" x2="667.00" y2="326.20" stroke="#000" stroke-width="2.0" stroke-linecap="butt"/>
<text x="0" y="0" font-size="14.0" text-anchor="middle" fill="#111" stroke="#111" stroke-width="0.12" transform="rotate(-90 478.70 251.50) translate(478.70,252.40) scale(1,1.03)">Number of social groups</text>
<text x="546.30" y="344.50" font-size="14.0" text-anchor="middle" fill="#111" stroke="#111" stroke-width="0.12" transform="rotate(-45 546.30 344.50)">100</text>
<text x="579.50" y="345.10" font-size="14.0" text-anchor="middle" fill="#111" stroke="#111" stroke-width="0.12" transform="rotate(-45 579.50 345.10)">75-95</text>
<text x="618.70" y="345.10" font-size="14.0" text-anchor="middle" fill="#111" stroke="#111" stroke-width="0.12" transform="rotate(-45 618.70 345.10)">50-70</text>
<text x="659.00" y="345.10" font-size="14.0" text-anchor="middle" fill="#111" stroke="#111" stroke-width="0.12" transform="rotate(-45 659.00 345.10)">0-45</text>
<text x="0" y="0" font-size="14.0" text-anchor="middle" fill="#111" stroke="#111" stroke-width="0.12" transform="translate(596.00,366.90) scale(1,1.03)">% hierarchy stability</text>
<text x="0.90" y="396.40" font-size="19.9" font-weight="bold" fill="#000">d</text>
<line x1="68.00" y1="402.80" x2="68.00" y2="549.30" stroke="#000" stroke-width="2.0" stroke-linecap="butt"/>
<line x1="63.50" y1="548.30" x2="68.00" y2="548.30" stroke="#000" stroke-width="2.0" stroke-linecap="butt"/>
<text x="0" y="0" font-size="14.0" text-anchor="end" fill="#111" stroke="#111" stroke-width="0.12" transform="translate(56.20,552.90) scale(1,1.03)">0</text>
<line x1="63.50" y1="500.20" x2="68.00" y2="500.20" stroke="#000" stroke-width="2.0" stroke-linecap="butt"/>
<text x="0" y="0" font-size="14.0" text-anchor="end" fill="#111" stroke="#111" stroke-width="0.12" transform="translate(56.20,504.80) scale(1,1.03)">1</text>
<line x1="63.50" y1="452.10" x2="68.00" y2="452.10" stroke="#000" stroke-width="2.0" stroke-linecap="butt"/>
<text x="0" y="0" font-size="14.0" text-anchor="end" fill="#111" stroke="#111" stroke-width="0.12" transform="translate(56.20,456.70) scale(1,1.03)">2</text>
<line x1="63.50" y1="404.00" x2="68.00" y2="404.00" stroke="#000" stroke-width="2.0" stroke-linecap="butt"/>
<text x="0" y="0" font-size="14.0" text-anchor="end" fill="#111" stroke="#111" stroke-width="0.12" transform="translate(56.20,408.60) scale(1,1.03)">3</text>
<line x1="64.20" y1="548.30" x2="211.30" y2="548.30" stroke="#000" stroke-width="2.0" stroke-linecap="butt"/>
<line x1="85.70" y1="548.30" x2="85.70" y2="552.30" stroke="#000" stroke-width="2.0" stroke-linecap="butt"/>
<text x="0" y="0" font-size="14.0" text-anchor="middle" fill="#111" stroke="#111" stroke-width="0.12" transform="translate(85.70,569.50) scale(1,1.03)">1</text>
<line x1="121.50" y1="548.30" x2="121.50" y2="552.30" stroke="#000" stroke-width="2.0" stroke-linecap="butt"/>
<text x="0" y="0" font-size="14.0" text-anchor="middle" fill="#111" stroke="#111" stroke-width="0.12" transform="translate(121.50,569.50) scale(1,1.03)">2</text>
<line x1="157.30" y1="548.30" x2="157.30" y2="552.30" stroke="#000" stroke-width="2.0" stroke-linecap="butt"/>
<text x="0" y="0" font-size="14.0" text-anchor="middle" fill="#111" stroke="#111" stroke-width="0.12" transform="translate(157.30,569.50) scale(1,1.03)">3</text>
<line x1="192.60" y1="548.30" x2="192.60" y2="552.30" stroke="#000" stroke-width="2.0" stroke-linecap="butt"/>
<text x="0" y="0" font-size="14.0" text-anchor="middle" fill="#111" stroke="#111" stroke-width="0.12" transform="translate(192.60,569.50) scale(1,1.03)">4</text>
<line x1="210.30" y1="548.30" x2="210.30" y2="552.30" stroke="#000" stroke-width="2.0" stroke-linecap="butt"/>
<text x="0" y="0" font-size="14.0" text-anchor="middle" fill="#111" stroke="#111" stroke-width="0.12" transform="rotate(-90 23.10 476.90) translate(23.10,477.80) scale(1,1.03)">Relative vocalizations</text>
<text x="0" y="0" font-size="14.0" text-anchor="middle" fill="#111" stroke="#111" stroke-width="0.12" transform="translate(144.30,592.40) scale(1,1.03)">Tube test rank</text>
<text x="0" y="0" font-size="14.0" text-anchor="start" fill="#111" stroke="#111" stroke-width="0.12" font-style="italic" transform="translate(159.30,415.90) scale(1,1.03)">r</text>
<text x="0" y="0" font-size="14.0" text-anchor="start" fill="#111" stroke="#111" stroke-width="0.12" transform="translate(171.60,415.90) scale(1,1.03)">= -0.96</text>
<text x="0" y="0" font-size="14.0" text-anchor="start" fill="#111" stroke="#111" stroke-width="0.12" font-style="italic" transform="translate(159.90,432.40) scale(1,1.03)">P</text>
<text x="0" y="0" font-size="14.0" text-anchor="start" fill="#111" stroke="#111" stroke-width="0.12" transform="translate(171.60,432.40) scale(1,1.03)">= 0.04</text>
<line x1="85.70" y1="421.90" x2="85.70" y2="465.20" stroke="#000" stroke-width="1.8" stroke-linecap="butt"/>
<line x1="80.70" y1="421.90" x2="90.70" y2="421.90" stroke="#000" stroke-width="1.8" stroke-linecap="butt"/>
<line x1="80.70" y1="465.20" x2="90.70" y2="465.20" stroke="#000" stroke-width="1.8" stroke-linecap="butt"/>
<line x1="121.50" y1="486.60" x2="121.50" y2="515.30" stroke="#000" stroke-width="1.8" stroke-linecap="butt"/>
<line x1="116.50" y1="486.60" x2="126.50" y2="486.60" stroke="#000" stroke-width="1.8" stroke-linecap="butt"/>
<line x1="116.50" y1="515.30" x2="126.50" y2="515.30" stroke="#000" stroke-width="1.8" stroke-linecap="butt"/>
<line x1="157.30" y1="495.80" x2="157.30" y2="533.60" stroke="#000" stroke-width="1.8" stroke-linecap="butt"/>
<line x1="152.30" y1="495.80" x2="162.30" y2="495.80" stroke="#000" stroke-width="1.8" stroke-linecap="butt"/>
<line x1="152.30" y1="533.60" x2="162.30" y2="533.60" stroke="#000" stroke-width="1.8" stroke-linecap="butt"/>
<line x1="192.60" y1="538.30" x2="192.60" y2="547.00" stroke="#000" stroke-width="1.8" stroke-linecap="butt"/>
<line x1="187.60" y1="538.30" x2="197.60" y2="538.30" stroke="#000" stroke-width="1.8" stroke-linecap="butt"/>
<line x1="187.60" y1="547.00" x2="197.60" y2="547.00" stroke="#000" stroke-width="1.8" stroke-linecap="butt"/>
<rect x="79.50" y="437.10" width="12.40" height="12.40" fill="#e03424" stroke="#000" stroke-width="1.8"/>
<circle cx="121.50" cy="500.90" r="6.00" fill="#eb524c" stroke="#000" stroke-width="1.8"/>
<polygon points="157.30,508.72 163.38,514.80 157.30,520.88 151.22,514.80" fill="#f07272" stroke="#000" stroke-width="1.8" stroke-linejoin="miter"/>
<polygon points="192.60,536.83 198.98,547.85 186.22,547.85" fill="#f9d6d9" stroke="#000" stroke-width="1.8" stroke-linejoin="miter"/>
<line x1="85.70" y1="453.90" x2="190.50" y2="547.50" stroke="#000" stroke-width="2" stroke-linecap="butt"/>
<text x="229.70" y="400.40" font-size="19.9" font-weight="bold" fill="#000">e</text>
<line x1="295.90" y1="407.00" x2="295.90" y2="551.00" stroke="#000" stroke-width="2.0" stroke-linecap="butt"/>
<line x1="291.40" y1="550.00" x2="295.90" y2="550.00" stroke="#000" stroke-width="2.0" stroke-linecap="butt"/>
<text x="0" y="0" font-size="14.0" text-anchor="end" fill="#111" stroke="#111" stroke-width="0.12" transform="translate(283.60,554.60) scale(1,1.03)">0</text>
<line x1="291.40" y1="502.67" x2="295.90" y2="502.67" stroke="#000" stroke-width="2.0" stroke-linecap="butt"/>
<text x="0" y="0" font-size="14.0" text-anchor="end" fill="#111" stroke="#111" stroke-width="0.12" transform="translate(283.60,507.27) scale(1,1.03)">100</text>
<line x1="291.40" y1="455.33" x2="295.90" y2="455.33" stroke="#000" stroke-width="2.0" stroke-linecap="butt"/>
<text x="0" y="0" font-size="14.0" text-anchor="end" fill="#111" stroke="#111" stroke-width="0.12" transform="translate(283.60,459.93) scale(1,1.03)">200</text>
<line x1="291.40" y1="408.00" x2="295.90" y2="408.00" stroke="#000" stroke-width="2.0" stroke-linecap="butt"/>
<text x="0" y="0" font-size="14.0" text-anchor="end" fill="#111" stroke="#111" stroke-width="0.12" transform="translate(283.60,412.60) scale(1,1.03)">300</text>
<line x1="291.50" y1="550.00" x2="440.30" y2="550.00" stroke="#000" stroke-width="2.0" stroke-linecap="butt"/>
<line x1="313.40" y1="550.00" x2="313.40" y2="554.00" stroke="#000" stroke-width="2.0" stroke-linecap="butt"/>
<text x="0" y="0" font-size="14.0" text-anchor="middle" fill="#111" stroke="#111" stroke-width="0.12" transform="translate(313.40,572.60) scale(1,1.03)">1</text>
<line x1="349.30" y1="550.00" x2="349.30" y2="554.00" stroke="#000" stroke-width="2.0" stroke-linecap="butt"/>
<text x="0" y="0" font-size="14.0" text-anchor="middle" fill="#111" stroke="#111" stroke-width="0.12" transform="translate(349.30,572.60) scale(1,1.03)">2</text>
<line x1="385.40" y1="550.00" x2="385.40" y2="554.00" stroke="#000" stroke-width="2.0" stroke-linecap="butt"/>
<text x="0" y="0" font-size="14.0" text-anchor="middle" fill="#111" stroke="#111" stroke-width="0.12" transform="translate(385.40,572.60) scale(1,1.03)">3</text>
<line x1="421.60" y1="550.00" x2="421.60" y2="554.00" stroke="#000" stroke-width="2.0" stroke-linecap="butt"/>
<text x="0" y="0" font-size="14.0" text-anchor="middle" fill="#111" stroke="#111" stroke-width="0.12" transform="translate(421.60,572.60) scale(1,1.03)">4</text>
<line x1="439.30" y1="550.00" x2="439.30" y2="554.00" stroke="#000" stroke-width="2.0" stroke-linecap="butt"/>
<text x="0" y="0" font-size="14.0" text-anchor="middle" fill="#111" stroke="#111" stroke-width="0.12" transform="rotate(-90 250.40 475.80) translate(250.40,476.70) scale(1,1.03)">Corticosterone (ng/mL)</text>
<text x="0" y="0" font-size="14.0" text-anchor="middle" fill="#111" stroke="#111" stroke-width="0.12" transform="translate(368.30,593.60) scale(1,1.03)">Tube test rank</text>
<polyline points="313.40,505.98 349.30,497.46 385.40,526.33 421.60,521.60" fill="none" stroke="#b0b0b0" stroke-width="2"/>
<polyline points="313.40,509.77 349.30,489.89 385.40,535.80 421.60,525.39" fill="none" stroke="#b0b0b0" stroke-width="2"/>
<polyline points="313.40,513.08 349.30,514.03 385.40,510.71 421.60,504.09" fill="none" stroke="#b0b0b0" stroke-width="2"/>
<polyline points="313.40,516.87 349.30,515.92 385.40,521.60 421.60,535.80" fill="none" stroke="#b0b0b0" stroke-width="2"/>
<polyline points="313.40,520.65 349.30,517.81 385.40,526.33 421.60,516.87" fill="none" stroke="#b0b0b0" stroke-width="2"/>
<polyline points="313.40,533.43 349.30,527.28 385.40,531.07 421.60,539.11" fill="none" stroke="#b0b0b0" stroke-width="2"/>
<polyline points="313.40,536.75 349.30,532.96 385.40,539.59 421.60,525.39" fill="none" stroke="#b0b0b0" stroke-width="2"/>
<polyline points="313.40,539.59 349.30,537.22 385.40,533.43 421.60,542.90" fill="none" stroke="#b0b0b0" stroke-width="2"/>
<polyline points="313.40,542.90 349.30,541.95 385.40,538.17 421.60,527.75" fill="none" stroke="#b0b0b0" stroke-width="2"/>
<polyline points="313.40,545.27 349.30,523.97 385.40,543.37 421.60,546.21" fill="none" stroke="#b0b0b0" stroke-width="2"/>
<polyline points="313.40,528.70 349.30,531.07 385.40,522.55 421.60,520.65" fill="none" stroke="#b0b0b0" stroke-width="2"/>
<rect x="308.00" y="500.58" width="10.80" height="10.80" fill="none" stroke="#e3302a" stroke-width="2"/>
<circle cx="349.30" cy="497.46" r="5.40" fill="none" stroke="#e3302a" stroke-width="2"/>
<polygon points="385.40,521.20 390.53,526.33 385.40,531.46 380.27,526.33" fill="none" stroke="#e3302a" stroke-width="2" stroke-linejoin="miter"/>
<polygon points="421.60,515.39 427.54,525.65 415.66,525.65" fill="none" stroke="#e3302a" stroke-width="2" stroke-linejoin="miter"/>
<rect x="308.00" y="504.37" width="10.80" height="10.80" fill="none" stroke="#e3302a" stroke-width="2"/>
<circle cx="349.30" cy="489.89" r="5.40" fill="none" stroke="#e3302a" stroke-width="2"/>
<polygon points="385.40,530.67 390.53,535.80 385.40,540.93 380.27,535.80" fill="none" stroke="#e3302a" stroke-width="2" stroke-linejoin="miter"/>
<polygon points="421.60,519.18 427.54,529.44 415.66,529.44" fill="none" stroke="#e3302a" stroke-width="2" stroke-linejoin="miter"/>
<rect x="308.00" y="507.68" width="10.80" height="10.80" fill="none" stroke="#e3302a" stroke-width="2"/>
<circle cx="349.30" cy="514.03" r="5.40" fill="none" stroke="#e3302a" stroke-width="2"/>
<polygon points="385.40,505.58 390.53,510.71 385.40,515.84 380.27,510.71" fill="none" stroke="#e3302a" stroke-width="2" stroke-linejoin="miter"/>
<polygon points="421.60,497.88 427.54,508.14 415.66,508.14" fill="none" stroke="#e3302a" stroke-width="2" stroke-linejoin="miter"/>
<rect x="308.00" y="511.47" width="10.80" height="10.80" fill="none" stroke="#e3302a" stroke-width="2"/>
<circle cx="349.30" cy="515.92" r="5.40" fill="none" stroke="#e3302a" stroke-width="2"/>
<polygon points="385.40,516.47 390.53,521.60 385.40,526.73 380.27,521.60" fill="none" stroke="#e3302a" stroke-width="2" stroke-linejoin="miter"/>
<polygon points="421.60,529.59 427.54,539.85 415.66,539.85" fill="none" stroke="#e3302a" stroke-width="2" stroke-linejoin="miter"/>
<rect x="308.00" y="515.25" width="10.80" height="10.80" fill="none" stroke="#e3302a" stroke-width="2"/>
<circle cx="349.30" cy="517.81" r="5.40" fill="none" stroke="#e3302a" stroke-width="2"/>
<polygon points="385.40,521.20 390.53,526.33 385.40,531.46 380.27,526.33" fill="none" stroke="#e3302a" stroke-width="2" stroke-linejoin="miter"/>
<polygon points="421.60,510.66 427.54,520.92 415.66,520.92" fill="none" stroke="#e3302a" stroke-width="2" stroke-linejoin="miter"/>
<rect x="308.00" y="528.03" width="10.80" height="10.80" fill="none" stroke="#e3302a" stroke-width="2"/>
<circle cx="349.30" cy="527.28" r="5.40" fill="none" stroke="#e3302a" stroke-width="2"/>
<polygon points="385.40,525.94 390.53,531.07 385.40,536.20 380.27,531.07" fill="none" stroke="#e3302a" stroke-width="2" stroke-linejoin="miter"/>
<polygon points="421.60,532.90 427.54,543.16 415.66,543.16" fill="none" stroke="#e3302a" stroke-width="2" stroke-linejoin="miter"/>
<rect x="308.00" y="531.35" width="10.80" height="10.80" fill="none" stroke="#e3302a" stroke-width="2"/>
<circle cx="349.30" cy="532.96" r="5.40" fill="none" stroke="#e3302a" stroke-width="2"/>
<polygon points="385.40,534.46 390.53,539.59 385.40,544.72 380.27,539.59" fill="none" stroke="#e3302a" stroke-width="2" stroke-linejoin="miter"/>
<polygon points="421.60,519.18 427.54,529.44 415.66,529.44" fill="none" stroke="#e3302a" stroke-width="2" stroke-linejoin="miter"/>
<rect x="308.00" y="534.19" width="10.80" height="10.80" fill="none" stroke="#e3302a" stroke-width="2"/>
<circle cx="349.30" cy="537.22" r="5.40" fill="none" stroke="#e3302a" stroke-width="2"/>
<polygon points="385.40,528.30 390.53,533.43 385.40,538.56 380.27,533.43" fill="none" stroke="#e3302a" stroke-width="2" stroke-linejoin="miter"/>
<polygon points="421.60,536.69 427.54,546.95 415.66,546.95" fill="none" stroke="#e3302a" stroke-width="2" stroke-linejoin="miter"/>
<rect x="308.00" y="537.50" width="10.80" height="10.80" fill="none" stroke="#e3302a" stroke-width="2"/>
<circle cx="349.30" cy="541.95" r="5.40" fill="none" stroke="#e3302a" stroke-width="2"/>
<polygon points="385.40,533.04 390.53,538.17 385.40,543.30 380.27,538.17" fill="none" stroke="#e3302a" stroke-width="2" stroke-linejoin="miter"/>
<polygon points="421.60,521.54 427.54,531.80 415.66,531.80" fill="none" stroke="#e3302a" stroke-width="2" stroke-linejoin="miter"/>
<rect x="308.00" y="539.87" width="10.80" height="10.80" fill="none" stroke="#e3302a" stroke-width="2"/>
<circle cx="349.30" cy="523.97" r="5.40" fill="none" stroke="#e3302a" stroke-width="2"/>
<polygon points="385.40,538.24 390.53,543.37 385.40,548.50 380.27,543.37" fill="none" stroke="#e3302a" stroke-width="2" stroke-linejoin="miter"/>
<polygon points="421.60,540.00 427.54,550.26 415.66,550.26" fill="none" stroke="#e3302a" stroke-width="2" stroke-linejoin="miter"/>
<rect x="308.00" y="523.30" width="10.80" height="10.80" fill="none" stroke="#e3302a" stroke-width="2"/>
<circle cx="349.30" cy="531.07" r="5.40" fill="none" stroke="#e3302a" stroke-width="2"/>
<polygon points="385.40,517.42 390.53,522.55 385.40,527.68 380.27,522.55" fill="none" stroke="#e3302a" stroke-width="2" stroke-linejoin="miter"/>
<polygon points="421.60,514.44 427.54,524.70 415.66,524.70" fill="none" stroke="#e3302a" stroke-width="2" stroke-linejoin="miter"/>
<polyline points="313.40,526.14 349.30,519.71 385.40,531.63 421.60,527.75" fill="none" stroke="#000" stroke-width="2.2"/>
<rect x="307.40" y="520.14" width="12.00" height="12.00" fill="#e03424" stroke="#000" stroke-width="2.2"/>
<circle cx="349.30" cy="519.71" r="6.00" fill="#eb524c" stroke="#000" stroke-width="2.2"/>
<polygon points="385.40,525.93 391.10,531.63 385.40,537.33 379.70,531.63" fill="#f07272" stroke="#000" stroke-width="2.2" stroke-linejoin="miter"/>
<polygon points="421.60,520.85 428.20,532.25 415.00,532.25" fill="#f9d6d9" stroke="#000" stroke-width="2.2" stroke-linejoin="miter"/>
<text x="458.60" y="399.70" font-size="19.9" font-weight="bold" fill="#000">f</text>
<line x1="523.50" y1="406.90" x2="523.50" y2="552.30" stroke="#000" stroke-width="2.0" stroke-linecap="butt"/>
<line x1="519.00" y1="551.30" x2="523.50" y2="551.30" stroke="#000" stroke-width="2.0" stroke-linecap="butt"/>
<text x="0" y="0" font-size="14.0" text-anchor="end" fill="#111" stroke="#111" stroke-width="0.12" transform="translate(513.20,555.90) scale(1,1.03)">0.4</text>
<line x1="519.00" y1="527.38" x2="523.50" y2="527.38" stroke="#000" stroke-width="2.0" stroke-linecap="butt"/>
<text x="0" y="0" font-size="14.0" text-anchor="end" fill="#111" stroke="#111" stroke-width="0.12" transform="translate(513.20,531.98) scale(1,1.03)">0.6</text>
<line x1="519.00" y1="503.46" x2="523.50" y2="503.46" stroke="#000" stroke-width="2.0" stroke-linecap="butt"/>
<text x="0" y="0" font-size="14.0" text-anchor="end" fill="#111" stroke="#111" stroke-width="0.12" transform="translate(513.20,508.06) scale(1,1.03)">0.8</text>
<line x1="519.00" y1="479.54" x2="523.50" y2="479.54" stroke="#000" stroke-width="2.0" stroke-linecap="butt"/>
<text x="0" y="0" font-size="14.0" text-anchor="end" fill="#111" stroke="#111" stroke-width="0.12" transform="translate(513.20,484.14) scale(1,1.03)">1</text>
<line x1="519.00" y1="455.62" x2="523.50" y2="455.62" stroke="#000" stroke-width="2.0" stroke-linecap="butt"/>
<text x="0" y="0" font-size="14.0" text-anchor="end" fill="#111" stroke="#111" stroke-width="0.12" transform="translate(513.20,460.22) scale(1,1.03)">1.2</text>
<line x1="519.00" y1="431.70" x2="523.50" y2="431.70" stroke="#000" stroke-width="2.0" stroke-linecap="butt"/>
<text x="0" y="0" font-size="14.0" text-anchor="end" fill="#111" stroke="#111" stroke-width="0.12" transform="translate(513.20,436.30) scale(1,1.03)">1.4</text>
<line x1="519.00" y1="407.78" x2="523.50" y2="407.78" stroke="#000" stroke-width="2.0" stroke-linecap="butt"/>
<text x="0" y="0" font-size="14.0" text-anchor="end" fill="#111" stroke="#111" stroke-width="0.12" transform="translate(513.20,412.38) scale(1,1.03)">1.6</text>
<text x="0" y="0" font-size="14.3" text-anchor="middle" fill="#111" stroke="#111" stroke-width="0.12" transform="rotate(-90 477.40 480.50) translate(477.40,481.40) scale(1,1.03)">Relative corticosterone</text>
<text x="0" y="0" font-size="14.0" text-anchor="middle" fill="#111" stroke="#111" stroke-width="0.12" transform="translate(597.70,592.10) scale(1,1.03)">Tube test rank</text>
<text x="0" y="0" font-size="14.0" text-anchor="middle" fill="#111" stroke="#111" stroke-width="0.12" transform="translate(542.50,573.30) scale(1,1.03)">1</text>
<text x="0" y="0" font-size="14.0" text-anchor="middle" fill="#111" stroke="#111" stroke-width="0.12" transform="translate(578.00,573.30) scale(1,1.03)">2</text>
<text x="0" y="0" font-size="14.0" text-anchor="middle" fill="#111" stroke="#111" stroke-width="0.12" transform="translate(614.20,573.30) scale(1,1.03)">3</text>
<text x="0" y="0" font-size="14.0" text-anchor="middle" fill="#111" stroke="#111" stroke-width="0.12" transform="translate(650.00,573.30) scale(1,1.03)">4</text>
<rect x="529.30" y="479.54" width="25.30" height="4.43" fill="#e03424" stroke="#000" stroke-width="2"/>
<rect x="565.50" y="448.44" width="24.60" height="31.10" fill="#eb524c" stroke="#000" stroke-width="2"/>
<rect x="601.30" y="479.54" width="24.50" height="23.92" fill="#f07272" stroke="#000" stroke-width="2"/>
<rect x="636.80" y="479.54" width="24.50" height="2.99" fill="#f9d6d9" stroke="#000" stroke-width="2"/>
<line x1="523.50" y1="479.54" x2="667.20" y2="479.54" stroke="#000" stroke-width="2.0" stroke-linecap="butt"/>
<line x1="666.20" y1="479.54" x2="666.20" y2="483.54" stroke="#000" stroke-width="2.0" stroke-linecap="butt"/>
<line x1="541.70" y1="479.54" x2="541.70" y2="483.54" stroke="#000" stroke-width="2.0" stroke-linecap="butt"/>
<line x1="577.20" y1="479.54" x2="577.20" y2="483.54" stroke="#000" stroke-width="2.0" stroke-linecap="butt"/>
<line x1="613.40" y1="479.54" x2="613.40" y2="483.54" stroke="#000" stroke-width="2.0" stroke-linecap="butt"/>
<line x1="649.20" y1="479.54" x2="649.20" y2="483.54" stroke="#000" stroke-width="2.0" stroke-linecap="butt"/>
<line x1="541.70" y1="470.90" x2="541.70" y2="496.60" stroke="#000" stroke-width="1.8" stroke-linecap="butt"/>
<line x1="536.50" y1="470.90" x2="546.90" y2="470.90" stroke="#000" stroke-width="1.8" stroke-linecap="butt"/>
<line x1="536.50" y1="496.60" x2="546.90" y2="496.60" stroke="#000" stroke-width="1.8" stroke-linecap="butt"/>
<line x1="577.20" y1="436.60" x2="577.20" y2="462.00" stroke="#000" stroke-width="1.8" stroke-linecap="butt"/>
<line x1="572.00" y1="436.60" x2="582.40" y2="436.60" stroke="#000" stroke-width="1.8" stroke-linecap="butt"/>
<line x1="572.00" y1="462.00" x2="582.40" y2="462.00" stroke="#000" stroke-width="1.8" stroke-linecap="butt"/>
<line x1="613.40" y1="493.10" x2="613.40" y2="514.60" stroke="#000" stroke-width="1.8" stroke-linecap="butt"/>
<line x1="608.20" y1="493.10" x2="618.60" y2="493.10" stroke="#000" stroke-width="1.8" stroke-linecap="butt"/>
<line x1="608.20" y1="514.60" x2="618.60" y2="514.60" stroke="#000" stroke-width="1.8" stroke-linecap="butt"/>
<line x1="649.20" y1="469.70" x2="649.20" y2="495.40" stroke="#000" stroke-width="1.8" stroke-linecap="butt"/>
<line x1="644.00" y1="469.70" x2="654.40" y2="469.70" stroke="#000" stroke-width="1.8" stroke-linecap="butt"/>
<line x1="644.00" y1="495.40" x2="654.40" y2="495.40" stroke="#000" stroke-width="1.8" stroke-linecap="butt"/>
<path d="M576.5,418.4 L576.5,410.7 L615.8,410.7 L615.8,418.4" fill="none" stroke="#000" stroke-width="2"/>
<text x="0" y="0" font-size="20" text-anchor="middle" fill="#111" stroke="#111" stroke-width="0.12" transform="translate(596.80,414.40) scale(1,1.03)">*</text>
<text x="2.10" y="625.60" font-size="19.9" font-weight="bold" fill="#000">g</text>
<line x1="68.60" y1="631.70" x2="68.60" y2="779.00" stroke="#000" stroke-width="2.0" stroke-linecap="butt"/>
<line x1="64.10" y1="778.00" x2="68.60" y2="778.00" stroke="#000" stroke-width="2.0" stroke-linecap="butt"/>
<text x="0" y="0" font-size="14.0" text-anchor="end" fill="#111" stroke="#111" stroke-width="0.12" transform="translate(57.00,782.60) scale(1,1.03)">0</text>
<line x1="64.10" y1="741.67" x2="68.60" y2="741.67" stroke="#000" stroke-width="2.0" stroke-linecap="butt"/>
<text x="0" y="0" font-size="14.0" text-anchor="end" fill="#111" stroke="#111" stroke-width="0.12" transform="translate(57.00,746.27) scale(1,1.03)">25</text>
<line x1="64.10" y1="705.35" x2="68.60" y2="705.35" stroke="#000" stroke-width="2.0" stroke-linecap="butt"/>
<text x="0" y="0" font-size="14.0" text-anchor="end" fill="#111" stroke="#111" stroke-width="0.12" transform="translate(57.00,709.95) scale(1,1.03)">50</text>
<line x1="64.10" y1="669.03" x2="68.60" y2="669.03" stroke="#000" stroke-width="2.0" stroke-linecap="butt"/>
<text x="0" y="0" font-size="14.0" text-anchor="end" fill="#111" stroke="#111" stroke-width="0.12" transform="translate(57.00,673.63) scale(1,1.03)">75</text>
<line x1="64.10" y1="632.70" x2="68.60" y2="632.70" stroke="#000" stroke-width="2.0" stroke-linecap="butt"/>
<text x="0" y="0" font-size="14.0" text-anchor="end" fill="#111" stroke="#111" stroke-width="0.12" transform="translate(57.00,637.30) scale(1,1.03)">100</text>
<rect x="74.60" y="687.48" width="24.30" height="90.52" fill="#e03424" stroke="#000" stroke-width="2"/>
<line x1="86.75" y1="685.73" x2="86.75" y2="689.22" stroke="#000" stroke-width="1.8" stroke-linecap="butt"/>
<line x1="81.75" y1="685.73" x2="91.75" y2="685.73" stroke="#000" stroke-width="1.8" stroke-linecap="butt"/>
<line x1="81.75" y1="689.22" x2="91.75" y2="689.22" stroke="#000" stroke-width="1.8" stroke-linecap="butt"/>
<rect x="109.70" y="692.27" width="24.30" height="85.73" fill="#eb524c" stroke="#000" stroke-width="2"/>
<line x1="121.85" y1="687.91" x2="121.85" y2="696.63" stroke="#000" stroke-width="1.8" stroke-linecap="butt"/>
<line x1="116.85" y1="687.91" x2="126.85" y2="687.91" stroke="#000" stroke-width="1.8" stroke-linecap="butt"/>
<line x1="116.85" y1="696.63" x2="126.85" y2="696.63" stroke="#000" stroke-width="1.8" stroke-linecap="butt"/>
<rect x="145.60" y="698.09" width="24.00" height="79.91" fill="#f07272" stroke="#000" stroke-width="2"/>
<line x1="157.60" y1="693.73" x2="157.60" y2="702.44" stroke="#000" stroke-width="1.8" stroke-linecap="butt"/>
<line x1="152.60" y1="693.73" x2="162.60" y2="693.73" stroke="#000" stroke-width="1.8" stroke-linecap="butt"/>
<line x1="152.60" y1="702.44" x2="162.60" y2="702.44" stroke="#000" stroke-width="1.8" stroke-linecap="butt"/>
<rect x="180.70" y="692.13" width="24.30" height="85.87" fill="#f9d6d9" stroke="#000" stroke-width="2"/>
<line x1="192.85" y1="687.77" x2="192.85" y2="696.49" stroke="#000" stroke-width="1.8" stroke-linecap="butt"/>
<line x1="187.85" y1="687.77" x2="197.85" y2="687.77" stroke="#000" stroke-width="1.8" stroke-linecap="butt"/>
<line x1="187.85" y1="696.49" x2="197.85" y2="696.49" stroke="#000" stroke-width="1.8" stroke-linecap="butt"/>
<line x1="64.00" y1="778.00" x2="209.60" y2="778.00" stroke="#000" stroke-width="2.0" stroke-linecap="butt"/>
<line x1="86.75" y1="778.00" x2="86.75" y2="782.00" stroke="#000" stroke-width="2.0" stroke-linecap="butt"/>
<text x="0" y="0" font-size="14.0" text-anchor="middle" fill="#111" stroke="#111" stroke-width="0.12" transform="translate(86.75,801.30) scale(1,1.03)">1</text>
<line x1="121.85" y1="778.00" x2="121.85" y2="782.00" stroke="#000" stroke-width="2.0" stroke-linecap="butt"/>
<text x="0" y="0" font-size="14.0" text-anchor="middle" fill="#111" stroke="#111" stroke-width="0.12" transform="translate(121.85,801.30) scale(1,1.03)">2</text>
<line x1="157.60" y1="778.00" x2="157.60" y2="782.00" stroke="#000" stroke-width="2.0" stroke-linecap="butt"/>
<text x="0" y="0" font-size="14.0" text-anchor="middle" fill="#111" stroke="#111" stroke-width="0.12" transform="translate(157.60,801.30) scale(1,1.03)">3</text>
<line x1="192.85" y1="778.00" x2="192.85" y2="782.00" stroke="#000" stroke-width="2.0" stroke-linecap="butt"/>
<text x="0" y="0" font-size="14.0" text-anchor="middle" fill="#111" stroke="#111" stroke-width="0.12" transform="translate(192.85,801.30) scale(1,1.03)">4</text>
<line x1="208.60" y1="778.00" x2="208.60" y2="782.00" stroke="#000" stroke-width="2.0" stroke-linecap="butt"/>
<text x="0" y="0" font-size="14.0" text-anchor="middle" fill="#111" stroke="#111" stroke-width="0.12" transform="rotate(-90 22.50 707.00) translate(22.50,707.90) scale(1,1.03)">% lymphocytes</text>
<text x="0" y="0" font-size="14.0" text-anchor="middle" fill="#111" stroke="#111" stroke-width="0.12" transform="translate(141.40,823.50) scale(1,1.03)">Tube test rank</text>
<line x1="295.80" y1="635.00" x2="295.80" y2="780.00" stroke="#000" stroke-width="2.0" stroke-linecap="butt"/>
<line x1="291.30" y1="779.00" x2="295.80" y2="779.00" stroke="#000" stroke-width="2.0" stroke-linecap="butt"/>
<text x="0" y="0" font-size="14.0" text-anchor="end" fill="#111" stroke="#111" stroke-width="0.12" transform="translate(285.20,783.60) scale(1,1.03)">0</text>
<line x1="291.30" y1="743.25" x2="295.80" y2="743.25" stroke="#000" stroke-width="2.0" stroke-linecap="butt"/>
<text x="0" y="0" font-size="14.0" text-anchor="end" fill="#111" stroke="#111" stroke-width="0.12" transform="translate(285.20,747.85) scale(1,1.03)">5</text>
<line x1="291.30" y1="707.50" x2="295.80" y2="707.50" stroke="#000" stroke-width="2.0" stroke-linecap="butt"/>
<text x="0" y="0" font-size="14.0" text-anchor="end" fill="#111" stroke="#111" stroke-width="0.12" transform="translate(285.20,712.10) scale(1,1.03)">10</text>
<line x1="291.30" y1="671.75" x2="295.80" y2="671.75" stroke="#000" stroke-width="2.0" stroke-linecap="butt"/>
<text x="0" y="0" font-size="14.0" text-anchor="end" fill="#111" stroke="#111" stroke-width="0.12" transform="translate(285.20,676.35) scale(1,1.03)">15</text>
<line x1="291.30" y1="636.00" x2="295.80" y2="636.00" stroke="#000" stroke-width="2.0" stroke-linecap="butt"/>
<text x="0" y="0" font-size="14.0" text-anchor="end" fill="#111" stroke="#111" stroke-width="0.12" transform="translate(285.20,640.60) scale(1,1.03)">20</text>
<rect x="302.30" y="687.48" width="24.70" height="91.52" fill="#e03424" stroke="#000" stroke-width="2"/>
<line x1="314.65" y1="681.76" x2="314.65" y2="693.20" stroke="#000" stroke-width="1.8" stroke-linecap="butt"/>
<line x1="309.65" y1="681.76" x2="319.65" y2="681.76" stroke="#000" stroke-width="1.8" stroke-linecap="butt"/>
<line x1="309.65" y1="693.20" x2="319.65" y2="693.20" stroke="#000" stroke-width="1.8" stroke-linecap="butt"/>
<rect x="338.20" y="698.21" width="24.40" height="80.79" fill="#eb524c" stroke="#000" stroke-width="2"/>
<line x1="350.40" y1="691.20" x2="350.40" y2="705.21" stroke="#000" stroke-width="1.8" stroke-linecap="butt"/>
<line x1="345.40" y1="691.20" x2="355.40" y2="691.20" stroke="#000" stroke-width="1.8" stroke-linecap="butt"/>
<line x1="345.40" y1="705.21" x2="355.40" y2="705.21" stroke="#000" stroke-width="1.8" stroke-linecap="butt"/>
<rect x="373.90" y="699.63" width="24.70" height="79.37" fill="#f07272" stroke="#000" stroke-width="2"/>
<line x1="386.25" y1="694.06" x2="386.25" y2="705.21" stroke="#000" stroke-width="1.8" stroke-linecap="butt"/>
<line x1="381.25" y1="694.06" x2="391.25" y2="694.06" stroke="#000" stroke-width="1.8" stroke-linecap="butt"/>
<line x1="381.25" y1="705.21" x2="391.25" y2="705.21" stroke="#000" stroke-width="1.8" stroke-linecap="butt"/>
<rect x="409.80" y="700.35" width="24.80" height="78.65" fill="#f9d6d9" stroke="#000" stroke-width="2"/>
<line x1="422.20" y1="695.49" x2="422.20" y2="705.21" stroke="#000" stroke-width="1.8" stroke-linecap="butt"/>
<line x1="417.20" y1="695.49" x2="427.20" y2="695.49" stroke="#000" stroke-width="1.8" stroke-linecap="butt"/>
<line x1="417.20" y1="705.21" x2="427.20" y2="705.21" stroke="#000" stroke-width="1.8" stroke-linecap="butt"/>
<line x1="291.50" y1="779.00" x2="440.30" y2="779.00" stroke="#000" stroke-width="2.0" stroke-linecap="butt"/>
<line x1="314.65" y1="779.00" x2="314.65" y2="783.00" stroke="#000" stroke-width="2.0" stroke-linecap="butt"/>
<text x="0" y="0" font-size="14.0" text-anchor="middle" fill="#111" stroke="#111" stroke-width="0.12" transform="translate(314.65,801.30) scale(1,1.03)">1</text>
<line x1="350.40" y1="779.00" x2="350.40" y2="783.00" stroke="#000" stroke-width="2.0" stroke-linecap="butt"/>
<text x="0" y="0" font-size="14.0" text-anchor="middle" fill="#111" stroke="#111" stroke-width="0.12" transform="translate(350.40,801.30) scale(1,1.03)">2</text>
<line x1="386.25" y1="779.00" x2="386.25" y2="783.00" stroke="#000" stroke-width="2.0" stroke-linecap="butt"/>
<text x="0" y="0" font-size="14.0" text-anchor="middle" fill="#111" stroke="#111" stroke-width="0.12" transform="translate(386.25,801.30) scale(1,1.03)">3</text>
<line x1="422.20" y1="779.00" x2="422.20" y2="783.00" stroke="#000" stroke-width="2.0" stroke-linecap="butt"/>
<text x="0" y="0" font-size="14.0" text-anchor="middle" fill="#111" stroke="#111" stroke-width="0.12" transform="translate(422.20,801.30) scale(1,1.03)">4</text>
<line x1="439.30" y1="779.00" x2="439.30" y2="783.00" stroke="#000" stroke-width="2.0" stroke-linecap="butt"/>
<text x="0" y="0" font-size="14.1" text-anchor="middle" fill="#111" stroke="#111" stroke-width="0.12" transform="rotate(-90 250.50 710.50) translate(250.50,711.40) scale(1,1.03)">% CD8+ of lymphocytes</text>
<text x="0" y="0" font-size="14.0" text-anchor="middle" fill="#111" stroke="#111" stroke-width="0.12" transform="translate(348.20,823.30) scale(1,1.03)">Tube test rank</text>
<text x="458.00" y="628.20" font-size="19.9" font-weight="bold" fill="#000">h</text>
<line x1="523.30" y1="636.00" x2="523.30" y2="781.40" stroke="#000" stroke-width="2.0" stroke-linecap="butt"/>
<line x1="518.80" y1="780.40" x2="523.30" y2="780.40" stroke="#000" stroke-width="2.0" stroke-linecap="butt"/>
<text x="0" y="0" font-size="14.0" text-anchor="end" fill="#111" stroke="#111" stroke-width="0.12" transform="translate(512.40,785.00) scale(1,1.03)">0</text>
<line x1="518.80" y1="756.50" x2="523.30" y2="756.50" stroke="#000" stroke-width="2.0" stroke-linecap="butt"/>
<text x="0" y="0" font-size="14.0" text-anchor="end" fill="#111" stroke="#111" stroke-width="0.12" transform="translate(512.40,761.10) scale(1,1.03)">5</text>
<line x1="518.80" y1="732.60" x2="523.30" y2="732.60" stroke="#000" stroke-width="2.0" stroke-linecap="butt"/>
<text x="0" y="0" font-size="14.0" text-anchor="end" fill="#111" stroke="#111" stroke-width="0.12" transform="translate(512.40,737.20) scale(1,1.03)">10</text>
<line x1="518.80" y1="708.70" x2="523.30" y2="708.70" stroke="#000" stroke-width="2.0" stroke-linecap="butt"/>
<text x="0" y="0" font-size="14.0" text-anchor="end" fill="#111" stroke="#111" stroke-width="0.12" transform="translate(512.40,713.30) scale(1,1.03)">15</text>
<line x1="518.80" y1="684.80" x2="523.30" y2="684.80" stroke="#000" stroke-width="2.0" stroke-linecap="butt"/>
<text x="0" y="0" font-size="14.0" text-anchor="end" fill="#111" stroke="#111" stroke-width="0.12" transform="translate(512.40,689.40) scale(1,1.03)">20</text>
<line x1="518.80" y1="660.90" x2="523.30" y2="660.90" stroke="#000" stroke-width="2.0" stroke-linecap="butt"/>
<text x="0" y="0" font-size="14.0" text-anchor="end" fill="#111" stroke="#111" stroke-width="0.12" transform="translate(512.40,665.50) scale(1,1.03)">25</text>
<line x1="518.80" y1="637.00" x2="523.30" y2="637.00" stroke="#000" stroke-width="2.0" stroke-linecap="butt"/>
<text x="0" y="0" font-size="14.0" text-anchor="end" fill="#111" stroke="#111" stroke-width="0.12" transform="translate(512.40,641.60) scale(1,1.03)">30</text>
<line x1="519.00" y1="780.40" x2="666.70" y2="780.40" stroke="#000" stroke-width="2.0" stroke-linecap="butt"/>
<line x1="538.60" y1="780.40" x2="538.60" y2="784.40" stroke="#000" stroke-width="2.0" stroke-linecap="butt"/>
<text x="0" y="0" font-size="14.0" text-anchor="middle" fill="#111" stroke="#111" stroke-width="0.12" transform="translate(538.60,802.40) scale(1,1.03)">7</text>
<line x1="567.10" y1="780.40" x2="567.10" y2="784.40" stroke="#000" stroke-width="2.0" stroke-linecap="butt"/>
<text x="0" y="0" font-size="14.0" text-anchor="middle" fill="#111" stroke="#111" stroke-width="0.12" transform="translate(567.10,802.40) scale(1,1.03)">10</text>
<line x1="595.50" y1="780.40" x2="595.50" y2="784.40" stroke="#000" stroke-width="2.0" stroke-linecap="butt"/>
<text x="0" y="0" font-size="14.0" text-anchor="middle" fill="#111" stroke="#111" stroke-width="0.12" transform="translate(595.50,802.40) scale(1,1.03)">12</text>
<line x1="624.40" y1="780.40" x2="624.40" y2="784.40" stroke="#000" stroke-width="2.0" stroke-linecap="butt"/>
<text x="0" y="0" font-size="14.0" text-anchor="middle" fill="#111" stroke="#111" stroke-width="0.12" transform="translate(624.40,802.40) scale(1,1.03)">14</text>
<line x1="652.90" y1="780.40" x2="652.90" y2="784.40" stroke="#000" stroke-width="2.0" stroke-linecap="butt"/>
<text x="0" y="0" font-size="14.0" text-anchor="middle" fill="#111" stroke="#111" stroke-width="0.12" transform="translate(652.90,802.40) scale(1,1.03)">17</text>
<line x1="665.70" y1="780.40" x2="665.70" y2="784.40" stroke="#000" stroke-width="2.0" stroke-linecap="butt"/>
<text x="0" y="0" font-size="14.0" text-anchor="middle" fill="#111" stroke="#111" stroke-width="0.12" transform="rotate(-90 478.80 706.30) translate(478.80,707.20) scale(1,1.03)">% gB+ of CD8+ T-cells</text>
<text x="0" y="0" font-size="14.0" text-anchor="middle" fill="#111" stroke="#111" stroke-width="0.12" transform="translate(599.20,823.10) scale(1,1.03)">Days after vaccination</text>
<line x1="538.60" y1="776.10" x2="538.60" y2="778.97" stroke="#000" stroke-width="1.8" stroke-linecap="butt"/>
<line x1="533.80" y1="776.10" x2="543.40" y2="776.10" stroke="#000" stroke-width="1.8" stroke-linecap="butt"/>
<line x1="533.80" y1="778.97" x2="543.40" y2="778.97" stroke="#000" stroke-width="1.8" stroke-linecap="butt"/>
<line x1="567.10" y1="750.29" x2="567.10" y2="756.02" stroke="#000" stroke-width="1.8" stroke-linecap="butt"/>
<line x1="562.30" y1="750.29" x2="571.90" y2="750.29" stroke="#000" stroke-width="1.8" stroke-linecap="butt"/>
<line x1="562.30" y1="756.02" x2="571.90" y2="756.02" stroke="#000" stroke-width="1.8" stroke-linecap="butt"/>
<line x1="595.50" y1="684.80" x2="595.50" y2="707.74" stroke="#000" stroke-width="1.8" stroke-linecap="butt"/>
<line x1="590.70" y1="684.80" x2="600.30" y2="684.80" stroke="#000" stroke-width="1.8" stroke-linecap="butt"/>
<line x1="590.70" y1="707.74" x2="600.30" y2="707.74" stroke="#000" stroke-width="1.8" stroke-linecap="butt"/>
<line x1="624.40" y1="674.76" x2="624.40" y2="708.22" stroke="#000" stroke-width="1.8" stroke-linecap="butt"/>
<line x1="619.60" y1="674.76" x2="629.20" y2="674.76" stroke="#000" stroke-width="1.8" stroke-linecap="butt"/>
<line x1="619.60" y1="708.22" x2="629.20" y2="708.22" stroke="#000" stroke-width="1.8" stroke-linecap="butt"/>
<line x1="652.90" y1="713.96" x2="652.90" y2="733.08" stroke="#000" stroke-width="1.8" stroke-linecap="butt"/>
<line x1="648.10" y1="713.96" x2="657.70" y2="713.96" stroke="#000" stroke-width="1.8" stroke-linecap="butt"/>
<line x1="648.10" y1="733.08" x2="657.70" y2="733.08" stroke="#000" stroke-width="1.8" stroke-linecap="butt"/>
<line x1="538.60" y1="775.14" x2="538.60" y2="778.01" stroke="#000" stroke-width="1.8" stroke-linecap="butt"/>
<line x1="533.80" y1="775.14" x2="543.40" y2="775.14" stroke="#000" stroke-width="1.8" stroke-linecap="butt"/>
<line x1="533.80" y1="778.01" x2="543.40" y2="778.01" stroke="#000" stroke-width="1.8" stroke-linecap="butt"/>
<line x1="567.10" y1="748.85" x2="567.10" y2="754.59" stroke="#000" stroke-width="1.8" stroke-linecap="butt"/>
<line x1="562.30" y1="748.85" x2="571.90" y2="748.85" stroke="#000" stroke-width="1.8" stroke-linecap="butt"/>
<line x1="562.30" y1="754.59" x2="571.90" y2="754.59" stroke="#000" stroke-width="1.8" stroke-linecap="butt"/>
<line x1="595.50" y1="681.93" x2="595.50" y2="708.70" stroke="#000" stroke-width="1.8" stroke-linecap="butt"/>
<line x1="590.70" y1="681.93" x2="600.30" y2="681.93" stroke="#000" stroke-width="1.8" stroke-linecap="butt"/>
<line x1="590.70" y1="708.70" x2="600.30" y2="708.70" stroke="#000" stroke-width="1.8" stroke-linecap="butt"/>
<line x1="624.40" y1="668.07" x2="624.40" y2="708.22" stroke="#000" stroke-width="1.8" stroke-linecap="butt"/>
<line x1="619.60" y1="668.07" x2="629.20" y2="668.07" stroke="#000" stroke-width="1.8" stroke-linecap="butt"/>
<line x1="619.60" y1="708.22" x2="629.20" y2="708.22" stroke="#000" stroke-width="1.8" stroke-linecap="butt"/>
<line x1="652.90" y1="712.05" x2="652.90" y2="730.21" stroke="#000" stroke-width="1.8" stroke-linecap="butt"/>
<line x1="648.10" y1="712.05" x2="657.70" y2="712.05" stroke="#000" stroke-width="1.8" stroke-linecap="butt"/>
<line x1="648.10" y1="730.21" x2="657.70" y2="730.21" stroke="#000" stroke-width="1.8" stroke-linecap="butt"/>
<line x1="538.60" y1="774.66" x2="538.60" y2="777.53" stroke="#000" stroke-width="1.8" stroke-linecap="butt"/>
<line x1="533.80" y1="774.66" x2="543.40" y2="774.66" stroke="#000" stroke-width="1.8" stroke-linecap="butt"/>
<line x1="533.80" y1="777.53" x2="543.40" y2="777.53" stroke="#000" stroke-width="1.8" stroke-linecap="butt"/>
<line x1="567.10" y1="745.03" x2="567.10" y2="750.76" stroke="#000" stroke-width="1.8" stroke-linecap="butt"/>
<line x1="562.30" y1="745.03" x2="571.90" y2="745.03" stroke="#000" stroke-width="1.8" stroke-linecap="butt"/>
<line x1="562.30" y1="750.76" x2="571.90" y2="750.76" stroke="#000" stroke-width="1.8" stroke-linecap="butt"/>
<line x1="595.50" y1="680.02" x2="595.50" y2="705.83" stroke="#000" stroke-width="1.8" stroke-linecap="butt"/>
<line x1="590.70" y1="680.02" x2="600.30" y2="680.02" stroke="#000" stroke-width="1.8" stroke-linecap="butt"/>
<line x1="590.70" y1="705.83" x2="600.30" y2="705.83" stroke="#000" stroke-width="1.8" stroke-linecap="butt"/>
<line x1="624.40" y1="656.60" x2="624.40" y2="697.71" stroke="#000" stroke-width="1.8" stroke-linecap="butt"/>
<line x1="619.60" y1="656.60" x2="629.20" y2="656.60" stroke="#000" stroke-width="1.8" stroke-linecap="butt"/>
<line x1="619.60" y1="697.71" x2="629.20" y2="697.71" stroke="#000" stroke-width="1.8" stroke-linecap="butt"/>
<line x1="652.90" y1="717.30" x2="652.90" y2="736.42" stroke="#000" stroke-width="1.8" stroke-linecap="butt"/>
<line x1="648.10" y1="717.30" x2="657.70" y2="717.30" stroke="#000" stroke-width="1.8" stroke-linecap="butt"/>
<line x1="648.10" y1="736.42" x2="657.70" y2="736.42" stroke="#000" stroke-width="1.8" stroke-linecap="butt"/>
<line x1="538.60" y1="774.66" x2="538.60" y2="777.53" stroke="#000" stroke-width="1.8" stroke-linecap="butt"/>
<line x1="533.80" y1="774.66" x2="543.40" y2="774.66" stroke="#000" stroke-width="1.8" stroke-linecap="butt"/>
<line x1="533.80" y1="777.53" x2="543.40" y2="777.53" stroke="#000" stroke-width="1.8" stroke-linecap="butt"/>
<line x1="567.10" y1="752.20" x2="567.10" y2="757.93" stroke="#000" stroke-width="1.8" stroke-linecap="butt"/>
<line x1="562.30" y1="752.20" x2="571.90" y2="752.20" stroke="#000" stroke-width="1.8" stroke-linecap="butt"/>
<line x1="562.30" y1="757.93" x2="571.90" y2="757.93" stroke="#000" stroke-width="1.8" stroke-linecap="butt"/>
<line x1="595.50" y1="689.58" x2="595.50" y2="711.57" stroke="#000" stroke-width="1.8" stroke-linecap="butt"/>
<line x1="590.70" y1="689.58" x2="600.30" y2="689.58" stroke="#000" stroke-width="1.8" stroke-linecap="butt"/>
<line x1="590.70" y1="711.57" x2="600.30" y2="711.57" stroke="#000" stroke-width="1.8" stroke-linecap="butt"/>
<line x1="624.40" y1="706.31" x2="624.40" y2="723.52" stroke="#000" stroke-width="1.8" stroke-linecap="butt"/>
<line x1="619.60" y1="706.31" x2="629.20" y2="706.31" stroke="#000" stroke-width="1.8" stroke-linecap="butt"/>
<line x1="619.60" y1="723.52" x2="629.20" y2="723.52" stroke="#000" stroke-width="1.8" stroke-linecap="butt"/>
<line x1="652.90" y1="734.03" x2="652.90" y2="745.51" stroke="#000" stroke-width="1.8" stroke-linecap="butt"/>
<line x1="648.10" y1="734.03" x2="657.70" y2="734.03" stroke="#000" stroke-width="1.8" stroke-linecap="butt"/>
<line x1="648.10" y1="745.51" x2="657.70" y2="745.51" stroke="#000" stroke-width="1.8" stroke-linecap="butt"/>
<polyline points="538.60,777.53 567.10,753.15 595.50,696.27 624.40,691.49 652.90,723.52" fill="none" stroke="#000" stroke-width="2.2"/>
<polyline points="538.60,776.58 567.10,751.72 595.50,695.32 624.40,688.15 652.90,721.13" fill="none" stroke="#000" stroke-width="2.2"/>
<polyline points="538.60,776.10 567.10,747.90 595.50,692.93 624.40,677.15 652.90,726.86" fill="none" stroke="#000" stroke-width="2.2"/>
<polyline points="538.60,776.10 567.10,755.07 595.50,700.57 624.40,714.91 652.90,739.77" fill="none" stroke="#000" stroke-width="2.2"/>
<rect x="533.20" y="772.13" width="10.80" height="10.80" fill="#e03424" stroke="#000" stroke-width="1.8"/>
<rect x="561.70" y="747.75" width="10.80" height="10.80" fill="#e03424" stroke="#000" stroke-width="1.8"/>
<rect x="590.10" y="690.87" width="10.80" height="10.80" fill="#e03424" stroke="#000" stroke-width="1.8"/>
<rect x="619.00" y="686.09" width="10.80" height="10.80" fill="#e03424" stroke="#000" stroke-width="1.8"/>
<rect x="647.50" y="718.12" width="10.80" height="10.80" fill="#e03424" stroke="#000" stroke-width="1.8"/>
<circle cx="538.60" cy="776.58" r="5.40" fill="#eb524c" stroke="#000" stroke-width="1.8"/>
<circle cx="567.10" cy="751.72" r="5.40" fill="#eb524c" stroke="#000" stroke-width="1.8"/>
<circle cx="595.50" cy="695.32" r="5.40" fill="#eb524c" stroke="#000" stroke-width="1.8"/>
<circle cx="624.40" cy="688.15" r="5.40" fill="#eb524c" stroke="#000" stroke-width="1.8"/>
<circle cx="652.90" cy="721.13" r="5.40" fill="#eb524c" stroke="#000" stroke-width="1.8"/>
<polygon points="538.60,770.97 543.73,776.10 538.60,781.23 533.47,776.10" fill="#f07272" stroke="#000" stroke-width="1.8" stroke-linejoin="miter"/>
<polygon points="567.10,742.77 572.23,747.90 567.10,753.03 561.97,747.90" fill="#f07272" stroke="#000" stroke-width="1.8" stroke-linejoin="miter"/>
<polygon points="595.50,687.80 600.63,692.93 595.50,698.06 590.37,692.93" fill="#f07272" stroke="#000" stroke-width="1.8" stroke-linejoin="miter"/>
<polygon points="624.40,672.02 629.53,677.15 624.40,682.28 619.27,677.15" fill="#f07272" stroke="#000" stroke-width="1.8" stroke-linejoin="miter"/>
<polygon points="652.90,721.73 658.03,726.86 652.90,731.99 647.77,726.86" fill="#f07272" stroke="#000" stroke-width="1.8" stroke-linejoin="miter"/>
<polygon points="538.60,769.89 544.54,780.15 532.66,780.15" fill="#f9d6d9" stroke="#000" stroke-width="1.8" stroke-linejoin="miter"/>
<polygon points="567.10,748.86 573.04,759.12 561.16,759.12" fill="#f9d6d9" stroke="#000" stroke-width="1.8" stroke-linejoin="miter"/>
<polygon points="595.50,694.36 601.44,704.62 589.56,704.62" fill="#f9d6d9" stroke="#000" stroke-width="1.8" stroke-linejoin="miter"/>
<polygon points="624.40,708.70 630.34,718.96 618.46,718.96" fill="#f9d6d9" stroke="#000" stroke-width="1.8" stroke-linejoin="miter"/>
<polygon points="652.90,733.56 658.84,743.82 646.96,743.82" fill="#f9d6d9" stroke="#000" stroke-width="1.8" stroke-linejoin="miter"/>
<text x="1.90" y="856.10" font-size="19.9" font-weight="bold" fill="#000">i</text>
<line x1="65.70" y1="864.60" x2="65.70" y2="1005.80" stroke="#000" stroke-width="2.0" stroke-linecap="butt"/>
<line x1="61.20" y1="1004.80" x2="65.70" y2="1004.80" stroke="#000" stroke-width="2.0" stroke-linecap="butt"/>
<text x="0" y="0" font-size="14.0" text-anchor="end" fill="#111" stroke="#111" stroke-width="0.12" transform="translate(54.60,1009.40) scale(1,1.03)">0</text>
<line x1="61.20" y1="981.60" x2="65.70" y2="981.60" stroke="#000" stroke-width="2.0" stroke-linecap="butt"/>
<text x="0" y="0" font-size="14.0" text-anchor="end" fill="#111" stroke="#111" stroke-width="0.12" transform="translate(54.60,986.20) scale(1,1.03)">10</text>
<line x1="61.20" y1="958.40" x2="65.70" y2="958.40" stroke="#000" stroke-width="2.0" stroke-linecap="butt"/>
<text x="0" y="0" font-size="14.0" text-anchor="end" fill="#111" stroke="#111" stroke-width="0.12" transform="translate(54.60,963.00) scale(1,1.03)">20</text>
<line x1="61.20" y1="935.20" x2="65.70" y2="935.20" stroke="#000" stroke-width="2.0" stroke-linecap="butt"/>
<text x="0" y="0" font-size="14.0" text-anchor="end" fill="#111" stroke="#111" stroke-width="0.12" transform="translate(54.60,939.80) scale(1,1.03)">30</text>
<line x1="61.20" y1="912.00" x2="65.70" y2="912.00" stroke="#000" stroke-width="2.0" stroke-linecap="butt"/>
<text x="0" y="0" font-size="14.0" text-anchor="end" fill="#111" stroke="#111" stroke-width="0.12" transform="translate(54.60,916.60) scale(1,1.03)">40</text>
<line x1="61.20" y1="888.80" x2="65.70" y2="888.80" stroke="#000" stroke-width="2.0" stroke-linecap="butt"/>
<text x="0" y="0" font-size="14.0" text-anchor="end" fill="#111" stroke="#111" stroke-width="0.12" transform="translate(54.60,893.40) scale(1,1.03)">50</text>
<line x1="61.20" y1="865.60" x2="65.70" y2="865.60" stroke="#000" stroke-width="2.0" stroke-linecap="butt"/>
<text x="0" y="0" font-size="14.0" text-anchor="end" fill="#111" stroke="#111" stroke-width="0.12" transform="translate(54.60,870.20) scale(1,1.03)">60</text>
<line x1="61.00" y1="1004.80" x2="208.20" y2="1004.80" stroke="#000" stroke-width="2.0" stroke-linecap="butt"/>
<line x1="84.20" y1="1004.80" x2="84.20" y2="1008.80" stroke="#000" stroke-width="2.0" stroke-linecap="butt"/>
<text x="0" y="0" font-size="14.0" text-anchor="middle" fill="#111" stroke="#111" stroke-width="0.12" transform="translate(84.20,1027.40) scale(1,1.03)">1</text>
<line x1="119.50" y1="1004.80" x2="119.50" y2="1008.80" stroke="#000" stroke-width="2.0" stroke-linecap="butt"/>
<text x="0" y="0" font-size="14.0" text-anchor="middle" fill="#111" stroke="#111" stroke-width="0.12" transform="translate(119.50,1027.40) scale(1,1.03)">2</text>
<line x1="155.00" y1="1004.80" x2="155.00" y2="1008.80" stroke="#000" stroke-width="2.0" stroke-linecap="butt"/>
<text x="0" y="0" font-size="14.0" text-anchor="middle" fill="#111" stroke="#111" stroke-width="0.12" transform="translate(155.00,1027.40) scale(1,1.03)">3</text>
<line x1="190.80" y1="1004.80" x2="190.80" y2="1008.80" stroke="#000" stroke-width="2.0" stroke-linecap="butt"/>
<text x="0" y="0" font-size="14.0" text-anchor="middle" fill="#111" stroke="#111" stroke-width="0.12" transform="translate(190.80,1027.40) scale(1,1.03)">4</text>
<line x1="207.20" y1="1004.80" x2="207.20" y2="1008.80" stroke="#000" stroke-width="2.0" stroke-linecap="butt"/>
<text x="0" y="0" font-size="14.0" text-anchor="middle" fill="#111" stroke="#111" stroke-width="0.12" transform="rotate(-90 20.20 934.20) translate(20.20,935.10) scale(1,1.03)">% gB+ of CD8+ T-cells</text>
<text x="0" y="0" font-size="14.0" text-anchor="middle" fill="#111" stroke="#111" stroke-width="0.12" transform="translate(141.90,1049.20) scale(1,1.03)">Tube test rank</text>
<polyline points="84.20,902.95 119.50,928.01 155.00,907.59 190.80,963.50" fill="none" stroke="#b0b0b0" stroke-width="2"/>
<polyline points="84.20,927.08 119.50,876.50 155.00,893.44 190.80,973.71" fill="none" stroke="#b0b0b0" stroke-width="2"/>
<polyline points="84.20,933.11 119.50,925.22 155.00,918.50 190.80,928.47" fill="none" stroke="#b0b0b0" stroke-width="2"/>
<polyline points="84.20,938.68 119.50,977.19 155.00,939.84 190.80,973.71" fill="none" stroke="#b0b0b0" stroke-width="2"/>
<polyline points="84.20,944.48 119.50,950.05 155.00,944.48 190.80,983.92" fill="none" stroke="#b0b0b0" stroke-width="2"/>
<polyline points="84.20,950.05 119.50,972.78 155.00,968.14 190.80,973.71" fill="none" stroke="#b0b0b0" stroke-width="2"/>
<polyline points="84.20,973.71 119.50,981.60 155.00,979.51 190.80,963.50" fill="none" stroke="#b0b0b0" stroke-width="2"/>
<polyline points="84.20,979.51 119.50,959.56 155.00,982.99 190.80,983.92" fill="none" stroke="#b0b0b0" stroke-width="2"/>
<polyline points="84.20,986.24 119.50,990.18 155.00,991.81 190.80,996.45" fill="none" stroke="#b0b0b0" stroke-width="2"/>
<polyline points="84.20,992.97 119.50,930.79 155.00,954.69 190.80,973.71" fill="none" stroke="#b0b0b0" stroke-width="2"/>
<polyline points="84.20,999.70 119.50,999.70 155.00,991.81 190.80,973.71" fill="none" stroke="#b0b0b0" stroke-width="2"/>
<polyline points="84.20,961.88 119.50,972.78 155.00,979.51 190.80,973.71" fill="none" stroke="#b0b0b0" stroke-width="2"/>
<rect x="78.40" y="897.15" width="11.60" height="11.60" fill="none" stroke="#e3302a" stroke-width="2"/>
<circle cx="119.50" cy="928.01" r="5.80" fill="none" stroke="#e3302a" stroke-width="2"/>
<polygon points="155.00,902.08 160.51,907.59 155.00,913.10 149.49,907.59" fill="none" stroke="#e3302a" stroke-width="2" stroke-linejoin="miter"/>
<polygon points="190.80,956.83 197.18,967.85 184.42,967.85" fill="none" stroke="#e3302a" stroke-width="2" stroke-linejoin="miter"/>
<rect x="78.40" y="921.28" width="11.60" height="11.60" fill="none" stroke="#e3302a" stroke-width="2"/>
<circle cx="119.50" cy="876.50" r="5.80" fill="none" stroke="#e3302a" stroke-width="2"/>
<polygon points="155.00,887.93 160.51,893.44 155.00,898.95 149.49,893.44" fill="none" stroke="#e3302a" stroke-width="2" stroke-linejoin="miter"/>
<polygon points="190.80,967.04 197.18,978.06 184.42,978.06" fill="none" stroke="#e3302a" stroke-width="2" stroke-linejoin="miter"/>
<rect x="78.40" y="927.31" width="11.60" height="11.60" fill="none" stroke="#e3302a" stroke-width="2"/>
<circle cx="119.50" cy="925.22" r="5.80" fill="none" stroke="#e3302a" stroke-width="2"/>
<polygon points="155.00,912.99 160.51,918.50 155.00,924.01 149.49,918.50" fill="none" stroke="#e3302a" stroke-width="2" stroke-linejoin="miter"/>
<polygon points="190.80,921.80 197.18,932.82 184.42,932.82" fill="none" stroke="#e3302a" stroke-width="2" stroke-linejoin="miter"/>
<rect x="78.40" y="932.88" width="11.60" height="11.60" fill="none" stroke="#e3302a" stroke-width="2"/>
<circle cx="119.50" cy="977.19" r="5.80" fill="none" stroke="#e3302a" stroke-width="2"/>
<polygon points="155.00,934.33 160.51,939.84 155.00,945.35 149.49,939.84" fill="none" stroke="#e3302a" stroke-width="2" stroke-linejoin="miter"/>
<polygon points="190.80,967.04 197.18,978.06 184.42,978.06" fill="none" stroke="#e3302a" stroke-width="2" stroke-linejoin="miter"/>
<rect x="78.40" y="938.68" width="11.60" height="11.60" fill="none" stroke="#e3302a" stroke-width="2"/>
<circle cx="119.50" cy="950.05" r="5.80" fill="none" stroke="#e3302a" stroke-width="2"/>
<polygon points="155.00,938.97 160.51,944.48 155.00,949.99 149.49,944.48" fill="none" stroke="#e3302a" stroke-width="2" stroke-linejoin="miter"/>
<polygon points="190.80,977.25 197.18,988.27 184.42,988.27" fill="none" stroke="#e3302a" stroke-width="2" stroke-linejoin="miter"/>
<rect x="78.40" y="944.25" width="11.60" height="11.60" fill="none" stroke="#e3302a" stroke-width="2"/>
<circle cx="119.50" cy="972.78" r="5.80" fill="none" stroke="#e3302a" stroke-width="2"/>
<polygon points="155.00,962.63 160.51,968.14 155.00,973.65 149.49,968.14" fill="none" stroke="#e3302a" stroke-width="2" stroke-linejoin="miter"/>
<polygon points="190.80,967.04 197.18,978.06 184.42,978.06" fill="none" stroke="#e3302a" stroke-width="2" stroke-linejoin="miter"/>
<rect x="78.40" y="967.91" width="11.60" height="11.60" fill="none" stroke="#e3302a" stroke-width="2"/>
<circle cx="119.50" cy="981.60" r="5.80" fill="none" stroke="#e3302a" stroke-width="2"/>
<polygon points="155.00,974.00 160.51,979.51 155.00,985.02 149.49,979.51" fill="none" stroke="#e3302a" stroke-width="2" stroke-linejoin="miter"/>
<polygon points="190.80,956.83 197.18,967.85 184.42,967.85" fill="none" stroke="#e3302a" stroke-width="2" stroke-linejoin="miter"/>
<rect x="78.40" y="973.71" width="11.60" height="11.60" fill="none" stroke="#e3302a" stroke-width="2"/>
<circle cx="119.50" cy="959.56" r="5.80" fill="none" stroke="#e3302a" stroke-width="2"/>
<polygon points="155.00,977.48 160.51,982.99 155.00,988.50 149.49,982.99" fill="none" stroke="#e3302a" stroke-width="2" stroke-linejoin="miter"/>
<polygon points="190.80,977.25 197.18,988.27 184.42,988.27" fill="none" stroke="#e3302a" stroke-width="2" stroke-linejoin="miter"/>
<rect x="78.40" y="980.44" width="11.60" height="11.60" fill="none" stroke="#e3302a" stroke-width="2"/>
<circle cx="119.50" cy="990.18" r="5.80" fill="none" stroke="#e3302a" stroke-width="2"/>
<polygon points="155.00,986.30 160.51,991.81 155.00,997.32 149.49,991.81" fill="none" stroke="#e3302a" stroke-width="2" stroke-linejoin="miter"/>
<polygon points="190.80,989.78 197.18,1000.80 184.42,1000.80" fill="none" stroke="#e3302a" stroke-width="2" stroke-linejoin="miter"/>
<rect x="78.40" y="987.17" width="11.60" height="11.60" fill="none" stroke="#e3302a" stroke-width="2"/>
<circle cx="119.50" cy="930.79" r="5.80" fill="none" stroke="#e3302a" stroke-width="2"/>
<polygon points="155.00,949.18 160.51,954.69 155.00,960.20 149.49,954.69" fill="none" stroke="#e3302a" stroke-width="2" stroke-linejoin="miter"/>
<polygon points="190.80,967.04 197.18,978.06 184.42,978.06" fill="none" stroke="#e3302a" stroke-width="2" stroke-linejoin="miter"/>
<rect x="78.40" y="993.90" width="11.60" height="11.60" fill="none" stroke="#e3302a" stroke-width="2"/>
<circle cx="119.50" cy="999.70" r="5.80" fill="none" stroke="#e3302a" stroke-width="2"/>
<polygon points="155.00,986.30 160.51,991.81 155.00,997.32 149.49,991.81" fill="none" stroke="#e3302a" stroke-width="2" stroke-linejoin="miter"/>
<polygon points="190.80,967.04 197.18,978.06 184.42,978.06" fill="none" stroke="#e3302a" stroke-width="2" stroke-linejoin="miter"/>
<rect x="78.40" y="956.08" width="11.60" height="11.60" fill="none" stroke="#e3302a" stroke-width="2"/>
<circle cx="119.50" cy="972.78" r="5.80" fill="none" stroke="#e3302a" stroke-width="2"/>
<polygon points="155.00,974.00 160.51,979.51 155.00,985.02 149.49,979.51" fill="none" stroke="#e3302a" stroke-width="2" stroke-linejoin="miter"/>
<polygon points="190.80,967.04 197.18,978.06 184.42,978.06" fill="none" stroke="#e3302a" stroke-width="2" stroke-linejoin="miter"/>
<polyline points="84.20,961.88 119.50,959.56 155.00,954.69 190.80,973.71" fill="none" stroke="#000" stroke-width="2.2"/>
<line x1="84.20" y1="957.24" x2="84.20" y2="966.52" stroke="#000" stroke-width="1.8" stroke-linecap="butt"/>
<line x1="80.20" y1="957.24" x2="88.20" y2="957.24" stroke="#000" stroke-width="1.8" stroke-linecap="butt"/>
<line x1="80.20" y1="966.52" x2="88.20" y2="966.52" stroke="#000" stroke-width="1.8" stroke-linecap="butt"/>
<line x1="119.50" y1="954.92" x2="119.50" y2="964.20" stroke="#000" stroke-width="1.8" stroke-linecap="butt"/>
<line x1="115.50" y1="954.92" x2="123.50" y2="954.92" stroke="#000" stroke-width="1.8" stroke-linecap="butt"/>
<line x1="115.50" y1="964.20" x2="123.50" y2="964.20" stroke="#000" stroke-width="1.8" stroke-linecap="butt"/>
<line x1="155.00" y1="950.05" x2="155.00" y2="959.33" stroke="#000" stroke-width="1.8" stroke-linecap="butt"/>
<line x1="151.00" y1="950.05" x2="159.00" y2="950.05" stroke="#000" stroke-width="1.8" stroke-linecap="butt"/>
<line x1="151.00" y1="959.33" x2="159.00" y2="959.33" stroke="#000" stroke-width="1.8" stroke-linecap="butt"/>
<line x1="190.80" y1="969.07" x2="190.80" y2="978.35" stroke="#000" stroke-width="1.8" stroke-linecap="butt"/>
<line x1="186.80" y1="969.07" x2="194.80" y2="969.07" stroke="#000" stroke-width="1.8" stroke-linecap="butt"/>
<line x1="186.80" y1="978.35" x2="194.80" y2="978.35" stroke="#000" stroke-width="1.8" stroke-linecap="butt"/>
<rect x="77.20" y="954.88" width="14.00" height="14.00" fill="#e03424" stroke="#000" stroke-width="2.4"/>
<circle cx="119.50" cy="959.56" r="7.00" fill="#eb524c" stroke="#000" stroke-width="2.4"/>
<polygon points="155.00,948.04 161.65,954.69 155.00,961.34 148.35,954.69" fill="#f07272" stroke="#000" stroke-width="2.4" stroke-linejoin="miter"/>
<polygon points="190.80,965.66 198.50,978.96 183.10,978.96" fill="#f9d6d9" stroke="#000" stroke-width="2.4" stroke-linejoin="miter"/>
<text x="229.40" y="855.30" font-size="19.9" font-weight="bold" fill="#000">j</text>
<line x1="296.30" y1="863.00" x2="296.30" y2="1007.10" stroke="#000" stroke-width="2.0" stroke-linecap="butt"/>
<line x1="291.80" y1="1006.10" x2="296.30" y2="1006.10" stroke="#000" stroke-width="2.0" stroke-linecap="butt"/>
<text x="0" y="0" font-size="14.0" text-anchor="end" fill="#111" stroke="#111" stroke-width="0.12" transform="translate(285.00,1010.70) scale(1,1.03)">0.4</text>
<line x1="291.80" y1="982.42" x2="296.30" y2="982.42" stroke="#000" stroke-width="2.0" stroke-linecap="butt"/>
<text x="0" y="0" font-size="14.0" text-anchor="end" fill="#111" stroke="#111" stroke-width="0.12" transform="translate(285.00,987.02) scale(1,1.03)">0.6</text>
<line x1="291.80" y1="958.73" x2="296.30" y2="958.73" stroke="#000" stroke-width="2.0" stroke-linecap="butt"/>
<text x="0" y="0" font-size="14.0" text-anchor="end" fill="#111" stroke="#111" stroke-width="0.12" transform="translate(285.00,963.33) scale(1,1.03)">0.8</text>
<line x1="291.80" y1="935.05" x2="296.30" y2="935.05" stroke="#000" stroke-width="2.0" stroke-linecap="butt"/>
<text x="0" y="0" font-size="14.0" text-anchor="end" fill="#111" stroke="#111" stroke-width="0.12" transform="translate(285.00,939.65) scale(1,1.03)">1.0</text>
<line x1="291.80" y1="911.37" x2="296.30" y2="911.37" stroke="#000" stroke-width="2.0" stroke-linecap="butt"/>
<text x="0" y="0" font-size="14.0" text-anchor="end" fill="#111" stroke="#111" stroke-width="0.12" transform="translate(285.00,915.97) scale(1,1.03)">1.2</text>
<line x1="291.80" y1="887.68" x2="296.30" y2="887.68" stroke="#000" stroke-width="2.0" stroke-linecap="butt"/>
<text x="0" y="0" font-size="14.0" text-anchor="end" fill="#111" stroke="#111" stroke-width="0.12" transform="translate(285.00,892.28) scale(1,1.03)">1.4</text>
<line x1="291.80" y1="864.00" x2="296.30" y2="864.00" stroke="#000" stroke-width="2.0" stroke-linecap="butt"/>
<text x="0" y="0" font-size="14.0" text-anchor="end" fill="#111" stroke="#111" stroke-width="0.12" transform="translate(285.00,868.60) scale(1,1.03)">1.6</text>
<text x="0" y="0" font-size="14.0" text-anchor="middle" fill="#111" stroke="#111" stroke-width="0.12" transform="rotate(-90 252.30 937.50) translate(252.30,938.40) scale(1,1.03)">Relative gB+ T-cells</text>
<text x="0" y="0" font-size="14.0" text-anchor="middle" fill="#111" stroke="#111" stroke-width="0.12" transform="translate(368.80,1049.20) scale(1,1.03)">Tube test rank</text>
<text x="0" y="0" font-size="14.0" text-anchor="middle" fill="#111" stroke="#111" stroke-width="0.12" transform="translate(313.80,1027.40) scale(1,1.03)">1</text>
<text x="0" y="0" font-size="14.0" text-anchor="middle" fill="#111" stroke="#111" stroke-width="0.12" transform="translate(349.50,1027.40) scale(1,1.03)">2</text>
<text x="0" y="0" font-size="14.0" text-anchor="middle" fill="#111" stroke="#111" stroke-width="0.12" transform="translate(385.00,1027.40) scale(1,1.03)">3</text>
<text x="0" y="0" font-size="14.0" text-anchor="middle" fill="#111" stroke="#111" stroke-width="0.12" transform="translate(420.80,1027.40) scale(1,1.03)">4</text>
<rect x="301.30" y="935.05" width="24.90" height="1.18" fill="#e03424" stroke="#000" stroke-width="2"/>
<rect x="337.50" y="935.05" width="24.50" height="1.18" fill="#eb524c" stroke="#000" stroke-width="2"/>
<rect x="373.30" y="917.29" width="23.70" height="17.76" fill="#f07272" stroke="#000" stroke-width="2"/>
<rect x="408.40" y="935.05" width="24.60" height="15.39" fill="#f9d6d9" stroke="#000" stroke-width="2"/>
<line x1="296.30" y1="935.05" x2="438.20" y2="935.05" stroke="#000" stroke-width="2.0" stroke-linecap="butt"/>
<line x1="437.20" y1="935.05" x2="437.20" y2="939.05" stroke="#000" stroke-width="2.0" stroke-linecap="butt"/>
<line x1="313.80" y1="935.05" x2="313.80" y2="939.05" stroke="#000" stroke-width="2.0" stroke-linecap="butt"/>
<line x1="349.50" y1="935.05" x2="349.50" y2="939.05" stroke="#000" stroke-width="2.0" stroke-linecap="butt"/>
<line x1="385.00" y1="935.05" x2="385.00" y2="939.05" stroke="#000" stroke-width="2.0" stroke-linecap="butt"/>
<line x1="420.80" y1="935.05" x2="420.80" y2="939.05" stroke="#000" stroke-width="2.0" stroke-linecap="butt"/>
<line x1="313.80" y1="922.00" x2="313.80" y2="949.60" stroke="#000" stroke-width="1.8" stroke-linecap="butt"/>
<line x1="308.60" y1="922.00" x2="319.00" y2="922.00" stroke="#000" stroke-width="1.8" stroke-linecap="butt"/>
<line x1="308.60" y1="949.60" x2="319.00" y2="949.60" stroke="#000" stroke-width="1.8" stroke-linecap="butt"/>
<line x1="349.50" y1="923.10" x2="349.50" y2="949.60" stroke="#000" stroke-width="1.8" stroke-linecap="butt"/>
<line x1="344.30" y1="923.10" x2="354.70" y2="923.10" stroke="#000" stroke-width="1.8" stroke-linecap="butt"/>
<line x1="344.30" y1="949.60" x2="354.70" y2="949.60" stroke="#000" stroke-width="1.8" stroke-linecap="butt"/>
<line x1="385.00" y1="904.80" x2="385.00" y2="930.80" stroke="#000" stroke-width="1.8" stroke-linecap="butt"/>
<line x1="379.80" y1="904.80" x2="390.20" y2="904.80" stroke="#000" stroke-width="1.8" stroke-linecap="butt"/>
<line x1="379.80" y1="930.80" x2="390.20" y2="930.80" stroke="#000" stroke-width="1.8" stroke-linecap="butt"/>
<line x1="420.80" y1="939.80" x2="420.80" y2="962.70" stroke="#000" stroke-width="1.8" stroke-linecap="butt"/>
<line x1="415.60" y1="939.80" x2="426.00" y2="939.80" stroke="#000" stroke-width="1.8" stroke-linecap="butt"/>
<line x1="415.60" y1="962.70" x2="426.00" y2="962.70" stroke="#000" stroke-width="1.8" stroke-linecap="butt"/>
<text x="458.40" y="855.20" font-size="19.9" font-weight="bold" fill="#000">k</text>
<line x1="524.40" y1="863.75" x2="524.40" y2="1005.50" stroke="#000" stroke-width="2.0" stroke-linecap="butt"/>
<line x1="519.90" y1="1004.50" x2="524.40" y2="1004.50" stroke="#000" stroke-width="2.0" stroke-linecap="butt"/>
<text x="0" y="0" font-size="14.0" text-anchor="end" fill="#111" stroke="#111" stroke-width="0.12" transform="translate(513.50,1009.10) scale(1,1.03)">0</text>
<line x1="519.90" y1="976.55" x2="524.40" y2="976.55" stroke="#000" stroke-width="2.0" stroke-linecap="butt"/>
<text x="0" y="0" font-size="14.0" text-anchor="end" fill="#111" stroke="#111" stroke-width="0.12" transform="translate(513.50,981.15) scale(1,1.03)">0.5</text>
<line x1="519.90" y1="948.60" x2="524.40" y2="948.60" stroke="#000" stroke-width="2.0" stroke-linecap="butt"/>
<text x="0" y="0" font-size="14.0" text-anchor="end" fill="#111" stroke="#111" stroke-width="0.12" transform="translate(513.50,953.20) scale(1,1.03)">1</text>
<line x1="519.90" y1="920.65" x2="524.40" y2="920.65" stroke="#000" stroke-width="2.0" stroke-linecap="butt"/>
<text x="0" y="0" font-size="14.0" text-anchor="end" fill="#111" stroke="#111" stroke-width="0.12" transform="translate(513.50,925.25) scale(1,1.03)">1.5</text>
<line x1="519.90" y1="892.70" x2="524.40" y2="892.70" stroke="#000" stroke-width="2.0" stroke-linecap="butt"/>
<text x="0" y="0" font-size="14.0" text-anchor="end" fill="#111" stroke="#111" stroke-width="0.12" transform="translate(513.50,897.30) scale(1,1.03)">2</text>
<line x1="519.90" y1="864.75" x2="524.40" y2="864.75" stroke="#000" stroke-width="2.0" stroke-linecap="butt"/>
<text x="0" y="0" font-size="14.0" text-anchor="end" fill="#111" stroke="#111" stroke-width="0.12" transform="translate(513.50,869.35) scale(1,1.03)">2.5</text>
<line x1="520.40" y1="1004.50" x2="668.50" y2="1004.50" stroke="#000" stroke-width="2.0" stroke-linecap="butt"/>
<line x1="524.40" y1="1004.50" x2="524.40" y2="1008.50" stroke="#000" stroke-width="2.0" stroke-linecap="butt"/>
<text x="0" y="0" font-size="14.0" text-anchor="middle" fill="#111" stroke="#111" stroke-width="0.12" transform="translate(524.40,1026.40) scale(1,1.03)">0.0</text>
<line x1="553.10" y1="1004.50" x2="553.10" y2="1008.50" stroke="#000" stroke-width="2.0" stroke-linecap="butt"/>
<text x="0" y="0" font-size="14.0" text-anchor="middle" fill="#111" stroke="#111" stroke-width="0.12" transform="translate(553.10,1026.40) scale(1,1.03)">0.5</text>
<line x1="581.80" y1="1004.50" x2="581.80" y2="1008.50" stroke="#000" stroke-width="2.0" stroke-linecap="butt"/>
<text x="0" y="0" font-size="14.0" text-anchor="middle" fill="#111" stroke="#111" stroke-width="0.12" transform="translate(581.80,1026.40) scale(1,1.03)">1.0</text>
<line x1="610.50" y1="1004.50" x2="610.50" y2="1008.50" stroke="#000" stroke-width="2.0" stroke-linecap="butt"/>
<text x="0" y="0" font-size="14.0" text-anchor="middle" fill="#111" stroke="#111" stroke-width="0.12" transform="translate(610.50,1026.40) scale(1,1.03)">1.5</text>
<line x1="639.20" y1="1004.50" x2="639.20" y2="1008.50" stroke="#000" stroke-width="2.0" stroke-linecap="butt"/>
<text x="0" y="0" font-size="14.0" text-anchor="middle" fill="#111" stroke="#111" stroke-width="0.12" transform="translate(639.20,1026.40) scale(1,1.03)">2.0</text>
<line x1="667.90" y1="1004.50" x2="667.90" y2="1008.50" stroke="#000" stroke-width="2.0" stroke-linecap="butt"/>
<text x="0" y="0" font-size="14.0" text-anchor="middle" fill="#111" stroke="#111" stroke-width="0.12" transform="translate(667.90,1026.40) scale(1,1.03)">2.5</text>
<text x="0" y="0" font-size="14.0" text-anchor="middle" fill="#111" stroke="#111" stroke-width="0.12" transform="rotate(-90 479.80 935.80) translate(479.80,936.70) scale(1,1.03)">Relative gB+ T-cells</text>
<text x="0" y="0" font-size="14.0" text-anchor="middle" fill="#111" stroke="#111" stroke-width="0.12" transform="translate(598.20,1049.20) scale(1,1.03)">Relative corticosterone</text>
<text x="0" y="0" font-size="14.0" text-anchor="start" fill="#111" stroke="#111" stroke-width="0.12" font-style="italic" transform="translate(611.10,867.90) scale(1,1.03)">r</text>
<text x="0" y="0" font-size="14.0" text-anchor="start" fill="#111" stroke="#111" stroke-width="0.12" transform="translate(623.50,867.90) scale(1,1.03)">= 0.14</text>
<text x="0" y="0" font-size="14.0" text-anchor="start" fill="#111" stroke="#111" stroke-width="0.12" font-style="italic" transform="translate(611.50,884.00) scale(1,1.03)">P</text>
<text x="0" y="0" font-size="14.0" text-anchor="start" fill="#111" stroke="#111" stroke-width="0.12" transform="translate(623.50,884.00) scale(1,1.03)">= 0.33</text>
<rect x="544.20" y="897.30" width="10.80" height="10.80" fill="#e03424" stroke="#000" stroke-width="1.8"/>
<rect x="608.70" y="917.70" width="10.80" height="10.80" fill="#e03424" stroke="#000" stroke-width="1.8"/>
<rect x="552.20" y="932.20" width="10.80" height="10.80" fill="#e03424" stroke="#000" stroke-width="1.8"/>
<rect x="575.80" y="927.60" width="10.80" height="10.80" fill="#e03424" stroke="#000" stroke-width="1.8"/>
<rect x="591.00" y="926.30" width="10.80" height="10.80" fill="#e03424" stroke="#000" stroke-width="1.8"/>
<rect x="550.90" y="950.60" width="10.80" height="10.80" fill="#e03424" stroke="#000" stroke-width="1.8"/>
<rect x="562.10" y="965.00" width="10.80" height="10.80" fill="#e03424" stroke="#000" stroke-width="1.8"/>
<rect x="579.80" y="954.50" width="10.80" height="10.80" fill="#e03424" stroke="#000" stroke-width="1.8"/>
<rect x="591.60" y="954.50" width="10.80" height="10.80" fill="#e03424" stroke="#000" stroke-width="1.8"/>
<rect x="595.60" y="966.40" width="10.80" height="10.80" fill="#e03424" stroke="#000" stroke-width="1.8"/>
<rect x="548.30" y="972.90" width="10.80" height="10.80" fill="#e03424" stroke="#000" stroke-width="1.8"/>
<circle cx="628.30" cy="908.00" r="5.60" fill="#eb524c" stroke="#000" stroke-width="1.8"/>
<circle cx="585.20" cy="919.20" r="5.60" fill="#eb524c" stroke="#000" stroke-width="1.8"/>
<circle cx="611.50" cy="931.00" r="5.60" fill="#eb524c" stroke="#000" stroke-width="1.8"/>
<circle cx="579.30" cy="947.50" r="5.60" fill="#eb524c" stroke="#000" stroke-width="1.8"/>
<circle cx="589.80" cy="946.10" r="5.60" fill="#eb524c" stroke="#000" stroke-width="1.8"/>
<circle cx="599.60" cy="947.50" r="5.60" fill="#eb524c" stroke="#000" stroke-width="1.8"/>
<circle cx="560.90" cy="956.00" r="5.60" fill="#eb524c" stroke="#000" stroke-width="1.8"/>
<circle cx="573.40" cy="966.50" r="5.60" fill="#eb524c" stroke="#000" stroke-width="1.8"/>
<circle cx="619.40" cy="967.80" r="5.60" fill="#eb524c" stroke="#000" stroke-width="1.8"/>
<circle cx="625.30" cy="970.70" r="5.60" fill="#eb524c" stroke="#000" stroke-width="1.8"/>
<circle cx="598.30" cy="977.00" r="5.60" fill="#eb524c" stroke="#000" stroke-width="1.8"/>
<polygon points="557.80,899.69 563.40,905.30 557.80,910.90 552.19,905.30" fill="#f07272" stroke="#000" stroke-width="1.8" stroke-linejoin="miter"/>
<polygon points="568.80,912.50 574.40,918.10 568.80,923.71 563.19,918.10" fill="#f07272" stroke="#000" stroke-width="1.8" stroke-linejoin="miter"/>
<polygon points="601.00,912.50 606.61,918.10 601.00,923.71 595.39,918.10" fill="#f07272" stroke="#000" stroke-width="1.8" stroke-linejoin="miter"/>
<polygon points="583.90,922.10 589.50,927.70 583.90,933.31 578.29,927.70" fill="#f07272" stroke="#000" stroke-width="1.8" stroke-linejoin="miter"/>
<polygon points="565.50,924.79 571.11,930.40 565.50,936.00 559.89,930.40" fill="#f07272" stroke="#000" stroke-width="1.8" stroke-linejoin="miter"/>
<polygon points="552.30,935.89 557.90,941.50 552.30,947.11 546.69,941.50" fill="#f07272" stroke="#000" stroke-width="1.8" stroke-linejoin="miter"/>
<polygon points="564.80,939.19 570.40,944.80 564.80,950.40 559.19,944.80" fill="#f07272" stroke="#000" stroke-width="1.8" stroke-linejoin="miter"/>
<polygon points="549.70,960.89 555.31,966.50 549.70,972.11 544.10,966.50" fill="#f07272" stroke="#000" stroke-width="1.8" stroke-linejoin="miter"/>
<polygon points="543.10,971.39 548.71,977.00 543.10,982.61 537.50,977.00" fill="#f07272" stroke="#000" stroke-width="1.8" stroke-linejoin="miter"/>
<polygon points="550.40,940.36 556.56,951.00 544.24,951.00" fill="#f9d6d9" stroke="#000" stroke-width="1.8" stroke-linejoin="miter"/>
<polygon points="570.10,930.46 576.26,941.10 563.94,941.10" fill="#f9d6d9" stroke="#000" stroke-width="1.8" stroke-linejoin="miter"/>
<polygon points="588.50,931.16 594.66,941.80 582.34,941.80" fill="#f9d6d9" stroke="#000" stroke-width="1.8" stroke-linejoin="miter"/>
<polygon points="597.00,930.46 603.16,941.10 590.84,941.10" fill="#f9d6d9" stroke="#000" stroke-width="1.8" stroke-linejoin="miter"/>
<polygon points="560.20,956.16 566.36,966.80 554.04,966.80" fill="#f9d6d9" stroke="#000" stroke-width="1.8" stroke-linejoin="miter"/>
<polygon points="576.00,950.16 582.16,960.80 569.84,960.80" fill="#f9d6d9" stroke="#000" stroke-width="1.8" stroke-linejoin="miter"/>
<polygon points="588.50,947.56 594.66,958.20 582.34,958.20" fill="#f9d6d9" stroke="#000" stroke-width="1.8" stroke-linejoin="miter"/>
<polygon points="601.00,944.96 607.16,955.60 594.84,955.60" fill="#f9d6d9" stroke="#000" stroke-width="1.8" stroke-linejoin="miter"/>
<polygon points="607.50,952.16 613.66,962.80 601.34,962.80" fill="#f9d6d9" stroke="#000" stroke-width="1.8" stroke-linejoin="miter"/>
<polygon points="579.30,978.56 585.46,989.20 573.14,989.20" fill="#f9d6d9" stroke="#000" stroke-width="1.8" stroke-linejoin="miter"/>
<polygon points="542.50,991.86 548.66,1002.50 536.34,1002.50" fill="#f9d6d9" stroke="#000" stroke-width="1.8" stroke-linejoin="miter"/>
<line x1="540.40" y1="952.60" x2="644.70" y2="945.80" stroke="#000" stroke-width="1.9" stroke-linecap="butt"/>
</svg></body></html>
